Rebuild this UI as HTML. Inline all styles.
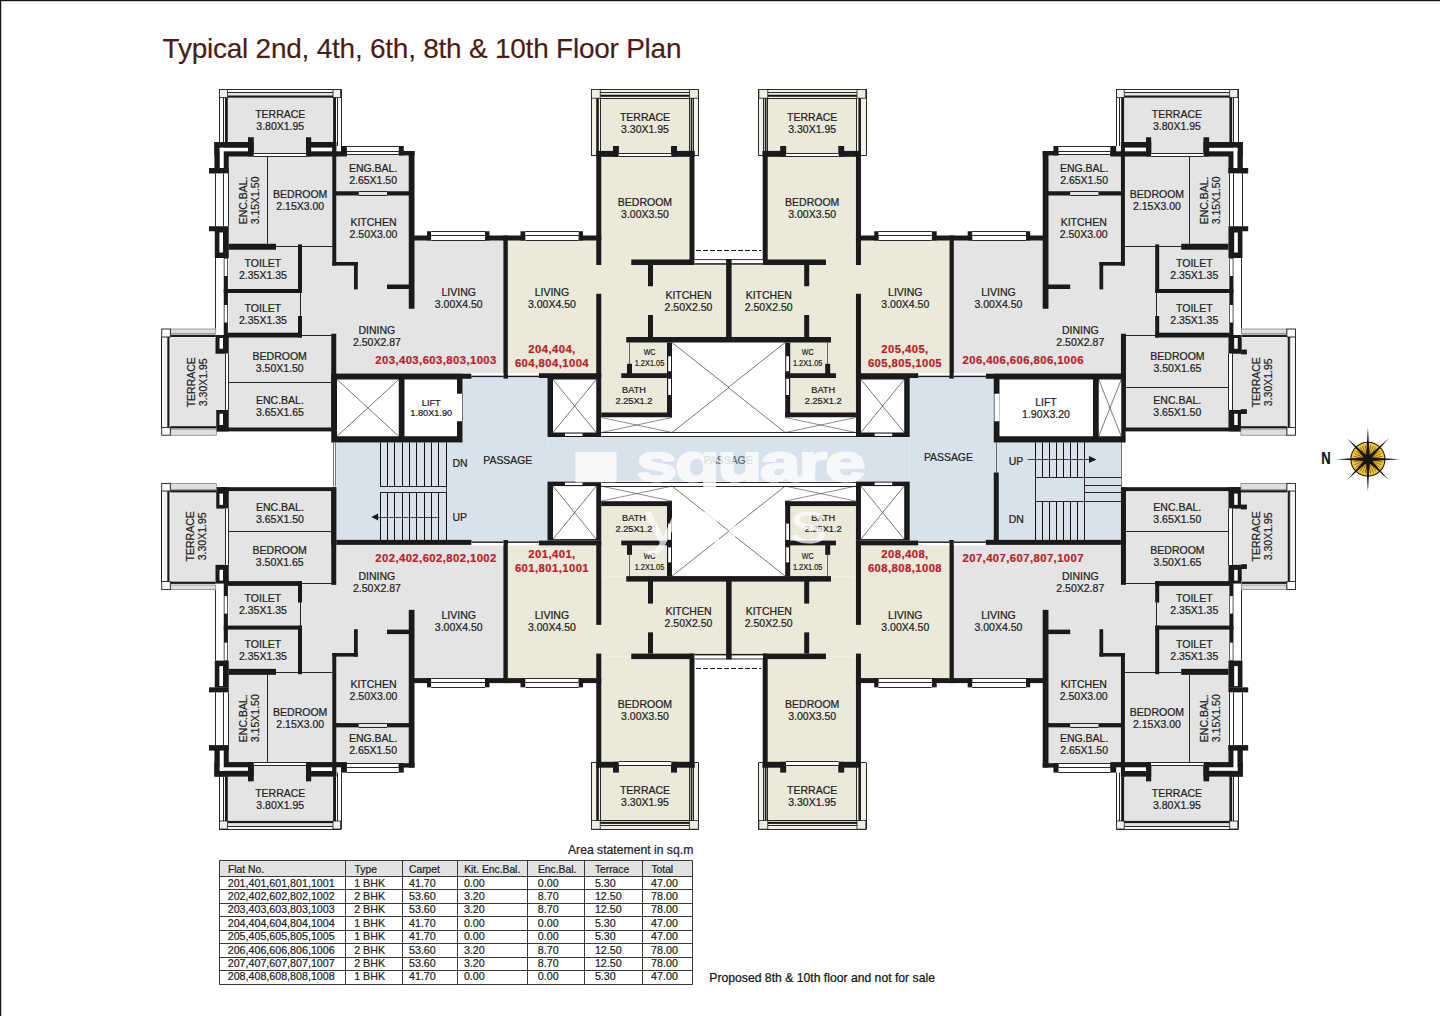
<!DOCTYPE html>
<html lang="en"><head><meta charset="utf-8"><title>Typical Floor Plan</title>
<style>
html,body{margin:0;padding:0;background:#fff;}
body{width:1440px;height:1016px;overflow:hidden;}
svg{display:block;font-family:"Liberation Sans",Arial,Helvetica,sans-serif;}
</style></head><body>
<svg width="1440" height="1016" viewBox="0 0 1440 1016">
<rect x="0" y="0" width="1440" height="1016" fill="#fff"/>
<rect x="336.25" y="442.5" width="211.25" height="97.35" fill="#d7e2ec"/>
<rect x="462.5" y="376.5" width="85" height="165.6" fill="#d7e2ec"/>
<rect x="547.5" y="437" width="362.2" height="44.6" fill="#d7e2ec"/>
<rect x="909.7" y="376.5" width="84.3" height="165.6" fill="#d7e2ec"/>
<rect x="994" y="442.5" width="127.3" height="97.35" fill="#d7e2ec"/>
<rect x="227.75" y="97.5" width="105.55" height="58.5" fill="#e4e4e4"/>
<rect x="228.5" y="155" width="181.5" height="95" fill="#e4e4e4"/>
<rect x="228.5" y="245" width="275.5" height="131" fill="#e4e4e4"/>
<rect x="410" y="238" width="94" height="138" fill="#e4e4e4"/>
<rect x="228.5" y="335" width="103.5" height="93" fill="#e4e4e4"/>
<rect x="170.3" y="337.3" width="54.9" height="90.3" fill="#e4e4e4"/>
<rect x="219" y="89.2" width="122" height="8.4" fill="#fafafa"/>
<rect x="219" y="89.2" width="8.5" height="52.8" fill="#fafafa"/>
<rect x="333" y="89.2" width="8" height="56.8" fill="#fafafa"/>
<rect x="227.5" y="92.6" width="105.5" height="3" fill="#e2e2e2"/>
<line x1="219" y1="89.5" x2="341" y2="89.5" stroke="#1c1c1c" stroke-width="0.95"/>
<line x1="227.5" y1="92.5" x2="333" y2="92.5" stroke="#1c1c1c" stroke-width="0.95"/>
<rect x="227.5" y="95.5" width="105.5" height="2.2" fill="#1a1a1a"/>
<line x1="219.5" y1="89.2" x2="219.5" y2="142" stroke="#1c1c1c" stroke-width="0.95"/>
<line x1="223.5" y1="97.5" x2="223.5" y2="142" stroke="#1c1c1c" stroke-width="0.95"/>
<line x1="341.5" y1="89.2" x2="341.5" y2="146" stroke="#1c1c1c" stroke-width="0.95"/>
<line x1="337.5" y1="97.5" x2="337.5" y2="146" stroke="#1c1c1c" stroke-width="0.95"/>
<rect x="219.4" y="89.6" width="8.1" height="8" fill="#f0f0f0" stroke="#1c1c1c" stroke-width="0.8"/>
<rect x="333" y="89.6" width="7.6" height="8" fill="#f0f0f0" stroke="#1c1c1c" stroke-width="0.8"/>
<rect x="225" y="97.5" width="2.8" height="44.5" fill="#1a1a1a"/>
<rect x="333.1" y="97.5" width="2.9" height="44.5" fill="#1a1a1a"/>
<rect x="214.4" y="142" width="39.35" height="14.5" fill="#1a1a1a"/>
<rect x="214.4" y="142" width="14.35" height="31.5" fill="#1a1a1a"/>
<rect x="209" y="168" width="19.75" height="5.5" fill="#1a1a1a"/>
<rect x="248" y="137.25" width="5.75" height="19.25" fill="#1a1a1a"/>
<rect x="219.75" y="147.8" width="28.25" height="3.5" fill="#fff"/>
<rect x="219.75" y="147.8" width="4" height="20.2" fill="#fff"/>
<rect x="306" y="137.25" width="5.2" height="19.25" fill="#1a1a1a"/>
<rect x="306" y="142" width="30.25" height="14.5" fill="#1a1a1a"/>
<rect x="311.2" y="147.6" width="21.3" height="3.7" fill="#fff"/>
<rect x="332.3" y="142" width="3.95" height="123.6" fill="#1a1a1a"/>
<rect x="253.75" y="153" width="52.25" height="3.5" fill="#fff"/>
<line x1="253.75" y1="153.5" x2="306" y2="153.5" stroke="#1c1c1c" stroke-width="0.95"/>
<line x1="253.75" y1="156.5" x2="306" y2="156.5" stroke="#1c1c1c" stroke-width="0.95"/>
<rect x="215" y="173.5" width="13.2" height="52.8" fill="#fff"/>
<line x1="215.5" y1="173.5" x2="215.5" y2="226.3" stroke="#1c1c1c" stroke-width="0.95"/>
<line x1="223.5" y1="173.5" x2="223.5" y2="226.3" stroke="#1c1c1c" stroke-width="0.95"/>
<line x1="228.5" y1="173.5" x2="228.5" y2="226.3" stroke="#1c1c1c" stroke-width="0.95"/>
<rect x="209" y="226.25" width="19.75" height="5" fill="#1a1a1a"/>
<rect x="214.75" y="231" width="14" height="27" fill="#1a1a1a"/>
<rect x="219.4" y="232.5" width="3.6" height="20" fill="#fff"/>
<rect x="228.75" y="243.75" width="47.25" height="6" fill="#1a1a1a"/>
<line x1="276" y1="246.5" x2="332.5" y2="246.5" stroke="#1c1c1c" stroke-width="0.95"/>
<line x1="267.5" y1="156.5" x2="267.5" y2="243.75" stroke="#1c1c1c" stroke-width="0.95"/>
<line x1="215.5" y1="258" x2="215.5" y2="335" stroke="#1c1c1c" stroke-width="0.95"/>
<rect x="223.75" y="258" width="4.15" height="77.5" fill="#1a1a1a"/>
<rect x="224.5" y="258.6" width="2.7" height="17.4" fill="#fff"/>
<rect x="224.5" y="305" width="2.7" height="17.5" fill="#fff"/>
<rect x="298" y="244.4" width="4" height="48.6" fill="#1a1a1a"/>
<rect x="223.75" y="289" width="78.25" height="4" fill="#1a1a1a"/>
<line x1="300.5" y1="293" x2="300.5" y2="316" stroke="#1c1c1c" stroke-width="0.95"/>
<rect x="298" y="316" width="4" height="21.5" fill="#1a1a1a"/>
<rect x="227.5" y="332.7" width="74.5" height="4.8" fill="#1a1a1a"/>
<line x1="302" y1="335.5" x2="331.5" y2="335.5" stroke="#1c1c1c" stroke-width="0.95"/>
<rect x="332.25" y="262" width="25.5" height="3.6" fill="#1a1a1a"/>
<rect x="354" y="262" width="3.75" height="27.4" fill="#1a1a1a"/>
<rect x="336" y="191.25" width="22.75" height="4.25" fill="#1a1a1a"/>
<rect x="387" y="191.25" width="23" height="4.25" fill="#1a1a1a"/>
<line x1="358.75" y1="191.5" x2="387" y2="191.5" stroke="#1c1c1c" stroke-width="0.95"/>
<line x1="358.75" y1="195.5" x2="387" y2="195.5" stroke="#1c1c1c" stroke-width="0.95"/>
<rect x="408.75" y="151" width="5.75" height="157.75" fill="#1a1a1a"/>
<rect x="387" y="284.5" width="23" height="4.5" fill="#1a1a1a"/>
<rect x="341" y="146" width="62.75" height="9" fill="#fff"/>
<line x1="346.9" y1="146.5" x2="398.75" y2="146.5" stroke="#1c1c1c" stroke-width="0.95"/>
<line x1="346.9" y1="151.5" x2="398.75" y2="151.5" stroke="#1c1c1c" stroke-width="0.95"/>
<line x1="346.9" y1="154.5" x2="398.75" y2="154.5" stroke="#1c1c1c" stroke-width="0.95"/>
<rect x="341" y="146" width="5.9" height="9.4" fill="#1a1a1a"/>
<rect x="336" y="151.3" width="10.9" height="5.2" fill="#1a1a1a"/>
<rect x="398.75" y="146" width="5" height="9.4" fill="#1a1a1a"/>
<rect x="398.75" y="151" width="15.75" height="4.4" fill="#1a1a1a"/>
<rect x="410" y="235.5" width="21.25" height="5" fill="#1a1a1a"/>
<rect x="427" y="231.25" width="4.25" height="9.25" fill="#1a1a1a"/>
<rect x="431.25" y="231.25" width="53.75" height="9.25" fill="#fff"/>
<line x1="431.25" y1="231.5" x2="485" y2="231.5" stroke="#1c1c1c" stroke-width="0.95"/>
<line x1="431.25" y1="235.5" x2="485" y2="235.5" stroke="#1c1c1c" stroke-width="0.95"/>
<line x1="431.25" y1="240.5" x2="485" y2="240.5" stroke="#1c1c1c" stroke-width="0.95"/>
<rect x="485" y="231.25" width="4.5" height="9.25" fill="#1a1a1a"/>
<rect x="485" y="235.5" width="23" height="5" fill="#1a1a1a"/>
<rect x="503.4" y="235.5" width="4.6" height="143.1" fill="#1a1a1a"/>
<rect x="331.25" y="333.75" width="5" height="97.65" fill="#1a1a1a"/>
<rect x="336.25" y="373.75" width="135.25" height="5" fill="#1a1a1a"/>
<rect x="471.5" y="373.2" width="31.9" height="2.6" fill="#fff"/>
<rect x="471.5" y="375.7" width="31.9" height="1.4" fill="#1a1a1a"/>
<line x1="228.75" y1="382.5" x2="331.25" y2="382.5" stroke="#1c1c1c" stroke-width="0.95"/>
<rect x="216.25" y="427.5" width="115" height="3.9" fill="#1a1a1a"/>
<rect x="215.5" y="335" width="13.25" height="18.75" fill="#1a1a1a"/>
<rect x="219.5" y="338" width="3.5" height="10.75" fill="#fff"/>
<rect x="216.25" y="410" width="12.5" height="21.4" fill="#1a1a1a"/>
<rect x="219.5" y="413.75" width="3.5" height="11.25" fill="#fff"/>
<rect x="225.2" y="353.75" width="3.3" height="56.25" fill="#fff"/>
<line x1="225.5" y1="353.75" x2="225.5" y2="410" stroke="#1c1c1c" stroke-width="0.95"/>
<line x1="228.5" y1="353.75" x2="228.5" y2="410" stroke="#1c1c1c" stroke-width="0.95"/>
<rect x="161.3" y="328.6" width="54.7" height="8.7" fill="#fff"/>
<rect x="161.3" y="427.6" width="54.95" height="8" fill="#fff"/>
<rect x="161.3" y="328.6" width="9" height="107" fill="#f6f6f6"/>
<rect x="170.3" y="329" width="45.5" height="4.6" fill="#dedede" stroke="#666" stroke-width="0.6"/>
<rect x="170.3" y="334.7" width="45.5" height="2.3" fill="#1a1a1a"/>
<rect x="170.3" y="426.2" width="45.95" height="2.2" fill="#1a1a1a"/>
<rect x="170.3" y="429.1" width="45.95" height="6.1" fill="#dedede" stroke="#666" stroke-width="0.6"/>
<line x1="161.5" y1="337" x2="161.5" y2="427.6" stroke="#1c1c1c" stroke-width="0.95"/>
<line x1="167.5" y1="337" x2="167.5" y2="427.6" stroke="#999" stroke-width="0.5"/>
<rect x="167.4" y="337" width="2.1" height="90.6" fill="#1a1a1a"/>
<rect x="161.7" y="329" width="8.6" height="8" fill="#fff" stroke="#1c1c1c" stroke-width="0.9"/>
<rect x="161.7" y="427.6" width="8.6" height="7.6" fill="#fff" stroke="#1c1c1c" stroke-width="0.9"/>
<text x="280.25" y="117.5" font-size="10.5" text-anchor="middle" fill="#222" stroke="#222" stroke-width="0.22">TERRACE</text>
<text x="280.25" y="129.5" font-size="10.5" text-anchor="middle" fill="#222" stroke="#222" stroke-width="0.22">3.80X1.95</text>
<text x="373.1" y="172" font-size="10.5" text-anchor="middle" fill="#222" stroke="#222" stroke-width="0.22">ENG.BAL.</text>
<text x="373.1" y="184" font-size="10.5" text-anchor="middle" fill="#222" stroke="#222" stroke-width="0.22">2.65X1.50</text>
<text x="300.25" y="198" font-size="10.5" text-anchor="middle" fill="#222" stroke="#222" stroke-width="0.22">BEDROOM</text>
<text x="300.25" y="210" font-size="10.5" text-anchor="middle" fill="#222" stroke="#222" stroke-width="0.22">2.15X3.00</text>
<text x="247" y="200.4" font-size="10.5" text-anchor="middle" fill="#222" stroke="#222" stroke-width="0.22" transform="rotate(-90 247 200.4)">ENC.BAL.</text>
<text x="259" y="200.4" font-size="10.5" text-anchor="middle" fill="#222" stroke="#222" stroke-width="0.22" transform="rotate(-90 259 200.4)">3.15X1.50</text>
<text x="373.5" y="226.25" font-size="10.5" text-anchor="middle" fill="#222" stroke="#222" stroke-width="0.22">KITCHEN</text>
<text x="373.5" y="238.25" font-size="10.5" text-anchor="middle" fill="#222" stroke="#222" stroke-width="0.22">2.50X3.00</text>
<text x="262.9" y="266.5" font-size="10.5" text-anchor="middle" fill="#222" stroke="#222" stroke-width="0.22">TOILET</text>
<text x="262.9" y="278.5" font-size="10.5" text-anchor="middle" fill="#222" stroke="#222" stroke-width="0.22">2.35X1.35</text>
<text x="262.9" y="312" font-size="10.5" text-anchor="middle" fill="#222" stroke="#222" stroke-width="0.22">TOILET</text>
<text x="262.9" y="324" font-size="10.5" text-anchor="middle" fill="#222" stroke="#222" stroke-width="0.22">2.35X1.35</text>
<text x="458.75" y="295.5" font-size="10.5" text-anchor="middle" fill="#222" stroke="#222" stroke-width="0.22">LIVING</text>
<text x="458.75" y="307.5" font-size="10.5" text-anchor="middle" fill="#222" stroke="#222" stroke-width="0.22">3.00X4.50</text>
<text x="376.9" y="333.75" font-size="10.5" text-anchor="middle" fill="#222" stroke="#222" stroke-width="0.22">DINING</text>
<text x="376.9" y="345.75" font-size="10.5" text-anchor="middle" fill="#222" stroke="#222" stroke-width="0.22">2.50X2.87</text>
<text x="279.75" y="360" font-size="10.5" text-anchor="middle" fill="#222" stroke="#222" stroke-width="0.22">BEDROOM</text>
<text x="279.75" y="372" font-size="10.5" text-anchor="middle" fill="#222" stroke="#222" stroke-width="0.22">3.50X1.50</text>
<text x="279.9" y="403.5" font-size="10.5" text-anchor="middle" fill="#222" stroke="#222" stroke-width="0.22">ENC.BAL.</text>
<text x="279.9" y="415.5" font-size="10.5" text-anchor="middle" fill="#222" stroke="#222" stroke-width="0.22">3.65X1.65</text>
<text x="194.5" y="382.25" font-size="10.5" text-anchor="middle" fill="#222" stroke="#222" stroke-width="0.22" transform="rotate(-90 194.5 382.25)">TERRACE</text>
<text x="206.5" y="382.25" font-size="10.5" text-anchor="middle" fill="#222" stroke="#222" stroke-width="0.22" transform="rotate(-90 206.5 382.25)">3.30X1.95</text>
<rect x="600.5" y="98" width="89" height="58" fill="#ebe9d9"/>
<rect x="601" y="155" width="89" height="107" fill="#ebe9d9"/>
<rect x="507.8" y="240" width="93.2" height="135" fill="#ebe9d9"/>
<rect x="596" y="262" width="131" height="80" fill="#ebe9d9"/>
<rect x="601.25" y="342" width="66.25" height="71" fill="#ebe9d9"/>
<rect x="591" y="89" width="107.7" height="9.2" fill="#f3f2e8"/>
<rect x="591" y="89" width="9.3" height="66.8" fill="#f3f2e8"/>
<rect x="689.3" y="89" width="9.4" height="66.8" fill="#f3f2e8"/>
<line x1="591" y1="89.5" x2="698.7" y2="89.5" stroke="#1c1c1c" stroke-width="0.95"/>
<line x1="600.2" y1="92.5" x2="689.4" y2="92.5" stroke="#1c1c1c" stroke-width="0.95"/>
<rect x="600.2" y="94.7" width="89.2" height="2.1" fill="#1a1a1a"/>
<line x1="600.2" y1="98.5" x2="689.4" y2="98.5" stroke="#1c1c1c" stroke-width="0.95"/>
<line x1="591.5" y1="89" x2="591.5" y2="155.8" stroke="#1c1c1c" stroke-width="0.95"/>
<line x1="698.5" y1="89" x2="698.5" y2="155.8" stroke="#1c1c1c" stroke-width="0.95"/>
<line x1="591" y1="155.5" x2="596.25" y2="155.5" stroke="#1c1c1c" stroke-width="0.95"/>
<line x1="694.5" y1="155.5" x2="698.7" y2="155.5" stroke="#1c1c1c" stroke-width="0.95"/>
<rect x="591.4" y="89.4" width="8.8" height="8.8" fill="#efeee2" stroke="#1c1c1c" stroke-width="0.8"/>
<rect x="689.4" y="89.4" width="8.9" height="8.8" fill="#efeee2" stroke="#1c1c1c" stroke-width="0.8"/>
<rect x="596.25" y="98" width="2.55" height="53.5" fill="#1a1a1a"/>
<line x1="600.5" y1="98" x2="600.5" y2="151.5" stroke="#1c1c1c" stroke-width="0.95"/>
<line x1="689.5" y1="98" x2="689.5" y2="151.5" stroke="#1c1c1c" stroke-width="0.95"/>
<rect x="690.7" y="98" width="1.7" height="53.5" fill="#1a1a1a"/>
<line x1="693.5" y1="98" x2="693.5" y2="151.5" stroke="#1c1c1c" stroke-width="0.95"/>
<rect x="596.25" y="150.9" width="22.15" height="5.9" fill="#1a1a1a"/>
<rect x="613" y="146" width="5.9" height="10.8" fill="#1a1a1a"/>
<rect x="671.6" y="150.9" width="23" height="5.9" fill="#1a1a1a"/>
<rect x="671" y="146" width="6" height="10.8" fill="#1a1a1a"/>
<rect x="618.75" y="153.4" width="52.5" height="3.4" fill="#fff"/>
<line x1="618.75" y1="153.5" x2="671.25" y2="153.5" stroke="#1c1c1c" stroke-width="0.95"/>
<line x1="618.75" y1="156.5" x2="671.25" y2="156.5" stroke="#1c1c1c" stroke-width="0.95"/>
<rect x="596.25" y="151.25" width="5" height="113.75" fill="#1a1a1a"/>
<rect x="689.5" y="151.25" width="5" height="113.75" fill="#1a1a1a"/>
<rect x="631.25" y="259.5" width="63.25" height="5.5" fill="#1a1a1a"/>
<rect x="648" y="265" width="5" height="21.25" fill="#1a1a1a"/>
<rect x="648" y="315" width="5" height="27" fill="#1a1a1a"/>
<rect x="596.25" y="293.75" width="5" height="84.25" fill="#1a1a1a"/>
<rect x="508" y="235.5" width="17.5" height="5" fill="#1a1a1a"/>
<rect x="520.5" y="231.25" width="5" height="9.25" fill="#1a1a1a"/>
<rect x="525.5" y="231.25" width="53.25" height="9.25" fill="#fff"/>
<line x1="525.5" y1="231.5" x2="578.75" y2="231.5" stroke="#1c1c1c" stroke-width="0.95"/>
<line x1="525.5" y1="235.5" x2="578.75" y2="235.5" stroke="#1c1c1c" stroke-width="0.95"/>
<line x1="525.5" y1="240.5" x2="578.75" y2="240.5" stroke="#1c1c1c" stroke-width="0.95"/>
<rect x="578.75" y="231.25" width="4.25" height="9.25" fill="#1a1a1a"/>
<rect x="578.75" y="235.5" width="22.5" height="5" fill="#1a1a1a"/>
<line x1="629.5" y1="342.5" x2="629.5" y2="363.75" stroke="#555" stroke-width="0.9"/>
<rect x="627" y="363.75" width="5" height="11.25" fill="#1a1a1a"/>
<rect x="667" y="342.5" width="5" height="75" fill="#1a1a1a"/>
<rect x="668.2" y="356.25" width="2.8" height="15" fill="#fff"/>
<rect x="668.2" y="378.75" width="2.8" height="16.25" fill="#fff"/>
<rect x="621.25" y="373.25" width="50.75" height="4.75" fill="#1a1a1a"/>
<rect x="601.25" y="412.5" width="70.75" height="5" fill="#1a1a1a"/>
<rect x="538.75" y="373.25" width="62.5" height="4.75" fill="#1a1a1a"/>
<rect x="508" y="373.2" width="30.75" height="2.6" fill="#fff"/>
<rect x="508" y="375.7" width="30.75" height="1.4" fill="#1a1a1a"/>
<rect x="547.5" y="378" width="53.75" height="59" fill="#1a1a1a"/>
<rect x="553" y="379.5" width="43.25" height="53" fill="#fff"/>
<rect x="565" y="433.6" width="17.5" height="2.4" fill="#fff"/>
<line x1="553" y1="379.5" x2="596.25" y2="432.5" stroke="#1c1c1c" stroke-width="0.6"/>
<line x1="553" y1="432.5" x2="596.25" y2="379.5" stroke="#1c1c1c" stroke-width="0.6"/>
<rect x="601.25" y="417.5" width="70.75" height="19.5" fill="#fff"/>
<line x1="601.25" y1="417.5" x2="672" y2="432.5" stroke="#1c1c1c" stroke-width="0.5"/>
<line x1="601.25" y1="432.5" x2="672" y2="417.5" stroke="#1c1c1c" stroke-width="0.5"/>
<line x1="601.25" y1="432.5" x2="729" y2="432.5" stroke="#1c1c1c" stroke-width="0.95"/>
<line x1="601.25" y1="436.5" x2="729" y2="436.5" stroke="#1c1c1c" stroke-width="0.95"/>
<line x1="672" y1="342.5" x2="729" y2="387.5" stroke="#1c1c1c" stroke-width="0.6"/>
<line x1="672" y1="432.5" x2="729" y2="387.5" stroke="#1c1c1c" stroke-width="0.6"/>
<text x="645" y="120.5" font-size="10.5" text-anchor="middle" fill="#222" stroke="#222" stroke-width="0.22">TERRACE</text>
<text x="645" y="132.5" font-size="10.5" text-anchor="middle" fill="#222" stroke="#222" stroke-width="0.22">3.30X1.95</text>
<text x="645" y="205.75" font-size="10.5" text-anchor="middle" fill="#222" stroke="#222" stroke-width="0.22">BEDROOM</text>
<text x="645" y="217.75" font-size="10.5" text-anchor="middle" fill="#222" stroke="#222" stroke-width="0.22">3.00X3.50</text>
<text x="551.9" y="295.5" font-size="10.5" text-anchor="middle" fill="#222" stroke="#222" stroke-width="0.22">LIVING</text>
<text x="551.9" y="307.5" font-size="10.5" text-anchor="middle" fill="#222" stroke="#222" stroke-width="0.22">3.00X4.50</text>
<text x="688.5" y="298.75" font-size="10.5" text-anchor="middle" fill="#222" stroke="#222" stroke-width="0.22">KITCHEN</text>
<text x="688.5" y="310.75" font-size="10.5" text-anchor="middle" fill="#222" stroke="#222" stroke-width="0.22">2.50X2.50</text>
<text x="649.5" y="355.3" font-size="9.3" text-anchor="middle" fill="#222" stroke="#222" stroke-width="0.22" textLength="11.7" lengthAdjust="spacingAndGlyphs">WC</text>
<text x="649.5" y="366" font-size="9.3" text-anchor="middle" fill="#222" stroke="#222" stroke-width="0.22" textLength="29.6" lengthAdjust="spacingAndGlyphs">1.2X1.05</text>
<text x="634" y="393" font-size="9.2" text-anchor="middle" fill="#222" stroke="#222" stroke-width="0.22">BATH</text>
<text x="634" y="403.75" font-size="9.2" text-anchor="middle" fill="#222" stroke="#222" stroke-width="0.22">2.25X1.2</text>
<rect x="227.75" y="762.6" width="105.55" height="58.5" fill="#e4e4e4"/>
<rect x="228.5" y="668.6" width="181.5" height="95" fill="#e4e4e4"/>
<rect x="228.5" y="542.6" width="275.5" height="131" fill="#e4e4e4"/>
<rect x="410" y="542.6" width="94" height="138" fill="#e4e4e4"/>
<rect x="228.5" y="490.6" width="103.5" height="93" fill="#e4e4e4"/>
<rect x="170.3" y="491" width="54.9" height="90.3" fill="#e4e4e4"/>
<rect x="219" y="821" width="122" height="8.4" fill="#fafafa"/>
<rect x="219" y="776.6" width="8.5" height="52.8" fill="#fafafa"/>
<rect x="333" y="772.6" width="8" height="56.8" fill="#fafafa"/>
<rect x="227.5" y="823" width="105.5" height="3" fill="#e2e2e2"/>
<line x1="219" y1="829.5" x2="341" y2="829.5" stroke="#1c1c1c" stroke-width="0.95"/>
<line x1="227.5" y1="826.5" x2="333" y2="826.5" stroke="#1c1c1c" stroke-width="0.95"/>
<rect x="227.5" y="820.9" width="105.5" height="2.2" fill="#1a1a1a"/>
<line x1="219.5" y1="829.4" x2="219.5" y2="776.6" stroke="#1c1c1c" stroke-width="0.95"/>
<line x1="223.5" y1="821.1" x2="223.5" y2="776.6" stroke="#1c1c1c" stroke-width="0.95"/>
<line x1="341.5" y1="829.4" x2="341.5" y2="772.6" stroke="#1c1c1c" stroke-width="0.95"/>
<line x1="337.5" y1="821.1" x2="337.5" y2="772.6" stroke="#1c1c1c" stroke-width="0.95"/>
<rect x="219.4" y="821" width="8.1" height="8" fill="#f0f0f0" stroke="#1c1c1c" stroke-width="0.8"/>
<rect x="333" y="821" width="7.6" height="8" fill="#f0f0f0" stroke="#1c1c1c" stroke-width="0.8"/>
<rect x="225" y="776.6" width="2.8" height="44.5" fill="#1a1a1a"/>
<rect x="333.1" y="776.6" width="2.9" height="44.5" fill="#1a1a1a"/>
<rect x="214.4" y="762.1" width="39.35" height="14.5" fill="#1a1a1a"/>
<rect x="214.4" y="745.1" width="14.35" height="31.5" fill="#1a1a1a"/>
<rect x="209" y="745.1" width="19.75" height="5.5" fill="#1a1a1a"/>
<rect x="248" y="762.1" width="5.75" height="19.25" fill="#1a1a1a"/>
<rect x="219.75" y="767.3" width="28.25" height="3.5" fill="#fff"/>
<rect x="219.75" y="750.6" width="4" height="20.2" fill="#fff"/>
<rect x="306" y="762.1" width="5.2" height="19.25" fill="#1a1a1a"/>
<rect x="306" y="762.1" width="30.25" height="14.5" fill="#1a1a1a"/>
<rect x="311.2" y="767.3" width="21.3" height="3.7" fill="#fff"/>
<rect x="332.3" y="653" width="3.95" height="123.6" fill="#1a1a1a"/>
<rect x="253.75" y="762.1" width="52.25" height="3.5" fill="#fff"/>
<line x1="253.75" y1="765.5" x2="306" y2="765.5" stroke="#1c1c1c" stroke-width="0.95"/>
<line x1="253.75" y1="762.5" x2="306" y2="762.5" stroke="#1c1c1c" stroke-width="0.95"/>
<rect x="215" y="692.3" width="13.2" height="52.8" fill="#fff"/>
<line x1="215.5" y1="745.1" x2="215.5" y2="692.3" stroke="#1c1c1c" stroke-width="0.95"/>
<line x1="223.5" y1="745.1" x2="223.5" y2="692.3" stroke="#1c1c1c" stroke-width="0.95"/>
<line x1="228.5" y1="745.1" x2="228.5" y2="692.3" stroke="#1c1c1c" stroke-width="0.95"/>
<rect x="209" y="687.35" width="19.75" height="5" fill="#1a1a1a"/>
<rect x="214.75" y="660.6" width="14" height="27" fill="#1a1a1a"/>
<rect x="219.4" y="666.1" width="3.6" height="20" fill="#fff"/>
<rect x="228.75" y="668.85" width="47.25" height="6" fill="#1a1a1a"/>
<line x1="276" y1="672.5" x2="332.5" y2="672.5" stroke="#1c1c1c" stroke-width="0.95"/>
<line x1="267.5" y1="762.1" x2="267.5" y2="674.85" stroke="#1c1c1c" stroke-width="0.95"/>
<line x1="215.5" y1="660.6" x2="215.5" y2="583.6" stroke="#1c1c1c" stroke-width="0.95"/>
<rect x="223.75" y="583.1" width="4.15" height="77.5" fill="#1a1a1a"/>
<rect x="224.5" y="642.6" width="2.7" height="17.4" fill="#fff"/>
<rect x="224.5" y="596.1" width="2.7" height="17.5" fill="#fff"/>
<rect x="298" y="625.6" width="4" height="48.6" fill="#1a1a1a"/>
<rect x="223.75" y="625.6" width="78.25" height="4" fill="#1a1a1a"/>
<line x1="300.5" y1="625.6" x2="300.5" y2="602.6" stroke="#1c1c1c" stroke-width="0.95"/>
<rect x="298" y="581.1" width="4" height="21.5" fill="#1a1a1a"/>
<rect x="227.5" y="581.1" width="74.5" height="4.8" fill="#1a1a1a"/>
<line x1="302" y1="583.5" x2="331.5" y2="583.5" stroke="#1c1c1c" stroke-width="0.95"/>
<rect x="332.25" y="653" width="25.5" height="3.6" fill="#1a1a1a"/>
<rect x="354" y="629.2" width="3.75" height="27.4" fill="#1a1a1a"/>
<rect x="336" y="723.1" width="22.75" height="4.25" fill="#1a1a1a"/>
<rect x="387" y="723.1" width="23" height="4.25" fill="#1a1a1a"/>
<line x1="358.75" y1="727.5" x2="387" y2="727.5" stroke="#1c1c1c" stroke-width="0.95"/>
<line x1="358.75" y1="723.5" x2="387" y2="723.5" stroke="#1c1c1c" stroke-width="0.95"/>
<rect x="408.75" y="609.85" width="5.75" height="157.75" fill="#1a1a1a"/>
<rect x="387" y="629.6" width="23" height="4.5" fill="#1a1a1a"/>
<rect x="341" y="763.6" width="62.75" height="9" fill="#fff"/>
<line x1="346.9" y1="772.5" x2="398.75" y2="772.5" stroke="#1c1c1c" stroke-width="0.95"/>
<line x1="346.9" y1="767.5" x2="398.75" y2="767.5" stroke="#1c1c1c" stroke-width="0.95"/>
<line x1="346.9" y1="763.5" x2="398.75" y2="763.5" stroke="#1c1c1c" stroke-width="0.95"/>
<rect x="341" y="763.2" width="5.9" height="9.4" fill="#1a1a1a"/>
<rect x="336" y="762.1" width="10.9" height="5.2" fill="#1a1a1a"/>
<rect x="398.75" y="763.2" width="5" height="9.4" fill="#1a1a1a"/>
<rect x="398.75" y="763.2" width="15.75" height="4.4" fill="#1a1a1a"/>
<rect x="410" y="678.1" width="21.25" height="5" fill="#1a1a1a"/>
<rect x="427" y="678.1" width="4.25" height="9.25" fill="#1a1a1a"/>
<rect x="431.25" y="678.1" width="53.75" height="9.25" fill="#fff"/>
<line x1="431.25" y1="687.5" x2="485" y2="687.5" stroke="#1c1c1c" stroke-width="0.95"/>
<line x1="431.25" y1="682.5" x2="485" y2="682.5" stroke="#1c1c1c" stroke-width="0.95"/>
<line x1="431.25" y1="678.5" x2="485" y2="678.5" stroke="#1c1c1c" stroke-width="0.95"/>
<rect x="485" y="678.1" width="4.5" height="9.25" fill="#1a1a1a"/>
<rect x="485" y="678.1" width="23" height="5" fill="#1a1a1a"/>
<rect x="503.4" y="540" width="4.6" height="143.1" fill="#1a1a1a"/>
<rect x="331.25" y="487.2" width="5" height="97.65" fill="#1a1a1a"/>
<rect x="336.25" y="539.85" width="135.25" height="5" fill="#1a1a1a"/>
<rect x="471.5" y="542.8" width="31.9" height="2.6" fill="#fff"/>
<rect x="471.5" y="541.5" width="31.9" height="1.4" fill="#1a1a1a"/>
<line x1="228.75" y1="531.5" x2="331.25" y2="531.5" stroke="#1c1c1c" stroke-width="0.95"/>
<rect x="216.25" y="487.2" width="115" height="3.9" fill="#1a1a1a"/>
<rect x="215.5" y="564.85" width="13.25" height="18.75" fill="#1a1a1a"/>
<rect x="219.5" y="569.85" width="3.5" height="10.75" fill="#fff"/>
<rect x="216.25" y="487.2" width="12.5" height="21.4" fill="#1a1a1a"/>
<rect x="219.5" y="493.6" width="3.5" height="11.25" fill="#fff"/>
<rect x="225.2" y="508.6" width="3.3" height="56.25" fill="#fff"/>
<line x1="225.5" y1="564.85" x2="225.5" y2="508.6" stroke="#1c1c1c" stroke-width="0.95"/>
<line x1="228.5" y1="564.85" x2="228.5" y2="508.6" stroke="#1c1c1c" stroke-width="0.95"/>
<rect x="161.3" y="581.3" width="54.7" height="8.7" fill="#fff"/>
<rect x="161.3" y="483" width="54.95" height="8" fill="#fff"/>
<rect x="161.3" y="483" width="9" height="107" fill="#f6f6f6"/>
<rect x="170.3" y="585" width="45.5" height="4.6" fill="#dedede" stroke="#666" stroke-width="0.6"/>
<rect x="170.3" y="581.6" width="45.5" height="2.3" fill="#1a1a1a"/>
<rect x="170.3" y="490.2" width="45.95" height="2.2" fill="#1a1a1a"/>
<rect x="170.3" y="483.4" width="45.95" height="6.1" fill="#dedede" stroke="#666" stroke-width="0.6"/>
<line x1="161.5" y1="581.6" x2="161.5" y2="491" stroke="#1c1c1c" stroke-width="0.95"/>
<line x1="167.5" y1="581.6" x2="167.5" y2="491" stroke="#999" stroke-width="0.5"/>
<rect x="167.4" y="491" width="2.1" height="90.6" fill="#1a1a1a"/>
<rect x="161.7" y="581.6" width="8.6" height="8" fill="#fff" stroke="#1c1c1c" stroke-width="0.9"/>
<rect x="161.7" y="483.4" width="8.6" height="7.6" fill="#fff" stroke="#1c1c1c" stroke-width="0.9"/>
<text x="280.25" y="796.62" font-size="10.5" text-anchor="middle" fill="#222" stroke="#222" stroke-width="0.22">TERRACE</text>
<text x="280.25" y="808.62" font-size="10.5" text-anchor="middle" fill="#222" stroke="#222" stroke-width="0.22">3.80X1.95</text>
<text x="373.1" y="742.12" font-size="10.5" text-anchor="middle" fill="#222" stroke="#222" stroke-width="0.22">ENG.BAL.</text>
<text x="373.1" y="754.12" font-size="10.5" text-anchor="middle" fill="#222" stroke="#222" stroke-width="0.22">2.65X1.50</text>
<text x="300.25" y="716.12" font-size="10.5" text-anchor="middle" fill="#222" stroke="#222" stroke-width="0.22">BEDROOM</text>
<text x="300.25" y="728.12" font-size="10.5" text-anchor="middle" fill="#222" stroke="#222" stroke-width="0.22">2.15X3.00</text>
<text x="247" y="718.2" font-size="10.5" text-anchor="middle" fill="#222" stroke="#222" stroke-width="0.22" transform="rotate(-90 247 718.2)">ENC.BAL.</text>
<text x="259" y="718.2" font-size="10.5" text-anchor="middle" fill="#222" stroke="#222" stroke-width="0.22" transform="rotate(-90 259 718.2)">3.15X1.50</text>
<text x="373.5" y="687.87" font-size="10.5" text-anchor="middle" fill="#222" stroke="#222" stroke-width="0.22">KITCHEN</text>
<text x="373.5" y="699.87" font-size="10.5" text-anchor="middle" fill="#222" stroke="#222" stroke-width="0.22">2.50X3.00</text>
<text x="262.9" y="647.62" font-size="10.5" text-anchor="middle" fill="#222" stroke="#222" stroke-width="0.22">TOILET</text>
<text x="262.9" y="659.62" font-size="10.5" text-anchor="middle" fill="#222" stroke="#222" stroke-width="0.22">2.35X1.35</text>
<text x="262.9" y="602.12" font-size="10.5" text-anchor="middle" fill="#222" stroke="#222" stroke-width="0.22">TOILET</text>
<text x="262.9" y="614.12" font-size="10.5" text-anchor="middle" fill="#222" stroke="#222" stroke-width="0.22">2.35X1.35</text>
<text x="458.75" y="618.62" font-size="10.5" text-anchor="middle" fill="#222" stroke="#222" stroke-width="0.22">LIVING</text>
<text x="458.75" y="630.62" font-size="10.5" text-anchor="middle" fill="#222" stroke="#222" stroke-width="0.22">3.00X4.50</text>
<text x="376.9" y="580.37" font-size="10.5" text-anchor="middle" fill="#222" stroke="#222" stroke-width="0.22">DINING</text>
<text x="376.9" y="592.37" font-size="10.5" text-anchor="middle" fill="#222" stroke="#222" stroke-width="0.22">2.50X2.87</text>
<text x="279.75" y="554.12" font-size="10.5" text-anchor="middle" fill="#222" stroke="#222" stroke-width="0.22">BEDROOM</text>
<text x="279.75" y="566.12" font-size="10.5" text-anchor="middle" fill="#222" stroke="#222" stroke-width="0.22">3.50X1.65</text>
<text x="279.9" y="510.62" font-size="10.5" text-anchor="middle" fill="#222" stroke="#222" stroke-width="0.22">ENC.BAL.</text>
<text x="279.9" y="522.62" font-size="10.5" text-anchor="middle" fill="#222" stroke="#222" stroke-width="0.22">3.65X1.50</text>
<text x="194.5" y="536.35" font-size="10.5" text-anchor="middle" fill="#222" stroke="#222" stroke-width="0.22" transform="rotate(-90 194.5 536.35)">TERRACE</text>
<text x="206.5" y="536.35" font-size="10.5" text-anchor="middle" fill="#222" stroke="#222" stroke-width="0.22" transform="rotate(-90 206.5 536.35)">3.30X1.95</text>
<rect x="600.5" y="762.6" width="89" height="58" fill="#ebe9d9"/>
<rect x="601" y="656.6" width="89" height="107" fill="#ebe9d9"/>
<rect x="507.8" y="543.6" width="93.2" height="135" fill="#ebe9d9"/>
<rect x="596" y="576.6" width="131" height="80" fill="#ebe9d9"/>
<rect x="601.25" y="505.6" width="66.25" height="71" fill="#ebe9d9"/>
<rect x="591" y="820.4" width="107.7" height="9.2" fill="#f3f2e8"/>
<rect x="591" y="762.8" width="9.3" height="66.8" fill="#f3f2e8"/>
<rect x="689.3" y="762.8" width="9.4" height="66.8" fill="#f3f2e8"/>
<line x1="591" y1="829.5" x2="698.7" y2="829.5" stroke="#1c1c1c" stroke-width="0.95"/>
<line x1="600.2" y1="825.5" x2="689.4" y2="825.5" stroke="#1c1c1c" stroke-width="0.95"/>
<rect x="600.2" y="821.8" width="89.2" height="2.1" fill="#1a1a1a"/>
<line x1="600.2" y1="820.5" x2="689.4" y2="820.5" stroke="#1c1c1c" stroke-width="0.95"/>
<line x1="591.5" y1="829.6" x2="591.5" y2="762.8" stroke="#1c1c1c" stroke-width="0.95"/>
<line x1="698.5" y1="829.6" x2="698.5" y2="762.8" stroke="#1c1c1c" stroke-width="0.95"/>
<line x1="591" y1="762.5" x2="596.25" y2="762.5" stroke="#1c1c1c" stroke-width="0.95"/>
<line x1="694.5" y1="762.5" x2="698.7" y2="762.5" stroke="#1c1c1c" stroke-width="0.95"/>
<rect x="591.4" y="820.4" width="8.8" height="8.8" fill="#efeee2" stroke="#1c1c1c" stroke-width="0.8"/>
<rect x="689.4" y="820.4" width="8.9" height="8.8" fill="#efeee2" stroke="#1c1c1c" stroke-width="0.8"/>
<rect x="596.25" y="767.1" width="2.55" height="53.5" fill="#1a1a1a"/>
<line x1="600.5" y1="820.6" x2="600.5" y2="767.1" stroke="#1c1c1c" stroke-width="0.95"/>
<line x1="689.5" y1="820.6" x2="689.5" y2="767.1" stroke="#1c1c1c" stroke-width="0.95"/>
<rect x="690.7" y="767.1" width="1.7" height="53.5" fill="#1a1a1a"/>
<line x1="693.5" y1="820.6" x2="693.5" y2="767.1" stroke="#1c1c1c" stroke-width="0.95"/>
<rect x="596.25" y="761.8" width="22.15" height="5.9" fill="#1a1a1a"/>
<rect x="613" y="761.8" width="5.9" height="10.8" fill="#1a1a1a"/>
<rect x="671.6" y="761.8" width="23" height="5.9" fill="#1a1a1a"/>
<rect x="671" y="761.8" width="6" height="10.8" fill="#1a1a1a"/>
<rect x="618.75" y="761.8" width="52.5" height="3.4" fill="#fff"/>
<line x1="618.75" y1="765.5" x2="671.25" y2="765.5" stroke="#1c1c1c" stroke-width="0.95"/>
<line x1="618.75" y1="761.5" x2="671.25" y2="761.5" stroke="#1c1c1c" stroke-width="0.95"/>
<rect x="596.25" y="653.6" width="5" height="113.75" fill="#1a1a1a"/>
<rect x="689.5" y="653.6" width="5" height="113.75" fill="#1a1a1a"/>
<rect x="631.25" y="653.6" width="63.25" height="5.5" fill="#1a1a1a"/>
<rect x="648" y="632.35" width="5" height="21.25" fill="#1a1a1a"/>
<rect x="648" y="576.6" width="5" height="27" fill="#1a1a1a"/>
<rect x="596.25" y="540.6" width="5" height="84.25" fill="#1a1a1a"/>
<rect x="508" y="678.1" width="17.5" height="5" fill="#1a1a1a"/>
<rect x="520.5" y="678.1" width="5" height="9.25" fill="#1a1a1a"/>
<rect x="525.5" y="678.1" width="53.25" height="9.25" fill="#fff"/>
<line x1="525.5" y1="687.5" x2="578.75" y2="687.5" stroke="#1c1c1c" stroke-width="0.95"/>
<line x1="525.5" y1="682.5" x2="578.75" y2="682.5" stroke="#1c1c1c" stroke-width="0.95"/>
<line x1="525.5" y1="678.5" x2="578.75" y2="678.5" stroke="#1c1c1c" stroke-width="0.95"/>
<rect x="578.75" y="678.1" width="4.25" height="9.25" fill="#1a1a1a"/>
<rect x="578.75" y="678.1" width="22.5" height="5" fill="#1a1a1a"/>
<line x1="629.5" y1="576.1" x2="629.5" y2="554.85" stroke="#555" stroke-width="0.9"/>
<rect x="627" y="543.6" width="5" height="11.25" fill="#1a1a1a"/>
<rect x="667" y="501.1" width="5" height="75" fill="#1a1a1a"/>
<rect x="668.2" y="547.35" width="2.8" height="15" fill="#fff"/>
<rect x="668.2" y="523.6" width="2.8" height="16.25" fill="#fff"/>
<rect x="621.25" y="540.6" width="50.75" height="4.75" fill="#1a1a1a"/>
<rect x="601.25" y="501.1" width="70.75" height="5" fill="#1a1a1a"/>
<rect x="538.75" y="540.6" width="62.5" height="4.75" fill="#1a1a1a"/>
<rect x="508" y="542.8" width="30.75" height="2.6" fill="#fff"/>
<rect x="508" y="541.5" width="30.75" height="1.4" fill="#1a1a1a"/>
<rect x="547.5" y="481.6" width="53.75" height="59" fill="#1a1a1a"/>
<rect x="553" y="486.1" width="43.25" height="53" fill="#fff"/>
<rect x="565" y="482.6" width="17.5" height="2.4" fill="#fff"/>
<line x1="553" y1="539.1" x2="596.25" y2="486.1" stroke="#1c1c1c" stroke-width="0.6"/>
<line x1="553" y1="486.1" x2="596.25" y2="539.1" stroke="#1c1c1c" stroke-width="0.6"/>
<rect x="601.25" y="481.6" width="70.75" height="19.5" fill="#fff"/>
<line x1="601.25" y1="501.1" x2="672" y2="486.1" stroke="#1c1c1c" stroke-width="0.5"/>
<line x1="601.25" y1="486.1" x2="672" y2="501.1" stroke="#1c1c1c" stroke-width="0.5"/>
<line x1="601.25" y1="486.5" x2="729" y2="486.5" stroke="#1c1c1c" stroke-width="0.95"/>
<line x1="601.25" y1="482.5" x2="729" y2="482.5" stroke="#1c1c1c" stroke-width="0.95"/>
<line x1="672" y1="576.1" x2="729" y2="531.1" stroke="#1c1c1c" stroke-width="0.6"/>
<line x1="672" y1="486.1" x2="729" y2="531.1" stroke="#1c1c1c" stroke-width="0.6"/>
<text x="645" y="793.62" font-size="10.5" text-anchor="middle" fill="#222" stroke="#222" stroke-width="0.22">TERRACE</text>
<text x="645" y="805.62" font-size="10.5" text-anchor="middle" fill="#222" stroke="#222" stroke-width="0.22">3.30X1.95</text>
<text x="645" y="708.37" font-size="10.5" text-anchor="middle" fill="#222" stroke="#222" stroke-width="0.22">BEDROOM</text>
<text x="645" y="720.37" font-size="10.5" text-anchor="middle" fill="#222" stroke="#222" stroke-width="0.22">3.00X3.50</text>
<text x="551.9" y="618.62" font-size="10.5" text-anchor="middle" fill="#222" stroke="#222" stroke-width="0.22">LIVING</text>
<text x="551.9" y="630.62" font-size="10.5" text-anchor="middle" fill="#222" stroke="#222" stroke-width="0.22">3.00X4.50</text>
<text x="688.5" y="615.37" font-size="10.5" text-anchor="middle" fill="#222" stroke="#222" stroke-width="0.22">KITCHEN</text>
<text x="688.5" y="627.37" font-size="10.5" text-anchor="middle" fill="#222" stroke="#222" stroke-width="0.22">2.50X2.50</text>
<text x="649.5" y="559.26" font-size="9.3" text-anchor="middle" fill="#222" stroke="#222" stroke-width="0.22" textLength="11.7" lengthAdjust="spacingAndGlyphs">WC</text>
<text x="649.5" y="569.96" font-size="9.3" text-anchor="middle" fill="#222" stroke="#222" stroke-width="0.22" textLength="29.6" lengthAdjust="spacingAndGlyphs">1.2X1.05</text>
<text x="634" y="521.44" font-size="9.2" text-anchor="middle" fill="#222" stroke="#222" stroke-width="0.22">BATH</text>
<text x="634" y="532.19" font-size="9.2" text-anchor="middle" fill="#222" stroke="#222" stroke-width="0.22">2.25X1.2</text>
<rect x="1123.9" y="97.5" width="105.55" height="58.5" fill="#e4e4e4"/>
<rect x="1047.2" y="155" width="181.5" height="95" fill="#e4e4e4"/>
<rect x="953.2" y="245" width="275.5" height="131" fill="#e4e4e4"/>
<rect x="953.2" y="238" width="94" height="138" fill="#e4e4e4"/>
<rect x="1125.2" y="335" width="103.5" height="93" fill="#e4e4e4"/>
<rect x="1232" y="337.3" width="54.9" height="90.3" fill="#e4e4e4"/>
<rect x="1116.2" y="89.2" width="122" height="8.4" fill="#fafafa"/>
<rect x="1229.7" y="89.2" width="8.5" height="52.8" fill="#fafafa"/>
<rect x="1116.2" y="89.2" width="8" height="56.8" fill="#fafafa"/>
<rect x="1124.2" y="92.6" width="105.5" height="3" fill="#e2e2e2"/>
<line x1="1238.2" y1="89.5" x2="1116.2" y2="89.5" stroke="#1c1c1c" stroke-width="0.95"/>
<line x1="1229.7" y1="92.5" x2="1124.2" y2="92.5" stroke="#1c1c1c" stroke-width="0.95"/>
<rect x="1124.2" y="95.5" width="105.5" height="2.2" fill="#1a1a1a"/>
<line x1="1238.5" y1="89.2" x2="1238.5" y2="142" stroke="#1c1c1c" stroke-width="0.95"/>
<line x1="1233.5" y1="97.5" x2="1233.5" y2="142" stroke="#1c1c1c" stroke-width="0.95"/>
<line x1="1116.5" y1="89.2" x2="1116.5" y2="146" stroke="#1c1c1c" stroke-width="0.95"/>
<line x1="1119.5" y1="97.5" x2="1119.5" y2="146" stroke="#1c1c1c" stroke-width="0.95"/>
<rect x="1229.7" y="89.6" width="8.1" height="8" fill="#f0f0f0" stroke="#1c1c1c" stroke-width="0.8"/>
<rect x="1116.6" y="89.6" width="7.6" height="8" fill="#f0f0f0" stroke="#1c1c1c" stroke-width="0.8"/>
<rect x="1229.4" y="97.5" width="2.8" height="44.5" fill="#1a1a1a"/>
<rect x="1121.2" y="97.5" width="2.9" height="44.5" fill="#1a1a1a"/>
<rect x="1203.45" y="142" width="39.35" height="14.5" fill="#1a1a1a"/>
<rect x="1228.45" y="142" width="14.35" height="31.5" fill="#1a1a1a"/>
<rect x="1228.45" y="168" width="19.75" height="5.5" fill="#1a1a1a"/>
<rect x="1203.45" y="137.25" width="5.75" height="19.25" fill="#1a1a1a"/>
<rect x="1209.2" y="147.8" width="28.25" height="3.5" fill="#fff"/>
<rect x="1233.45" y="147.8" width="4" height="20.2" fill="#fff"/>
<rect x="1146" y="137.25" width="5.2" height="19.25" fill="#1a1a1a"/>
<rect x="1120.95" y="142" width="30.25" height="14.5" fill="#1a1a1a"/>
<rect x="1124.7" y="147.6" width="21.3" height="3.7" fill="#fff"/>
<rect x="1120.95" y="142" width="3.95" height="123.6" fill="#1a1a1a"/>
<rect x="1151.2" y="153" width="52.25" height="3.5" fill="#fff"/>
<line x1="1203.45" y1="153.5" x2="1151.2" y2="153.5" stroke="#1c1c1c" stroke-width="0.95"/>
<line x1="1203.45" y1="156.5" x2="1151.2" y2="156.5" stroke="#1c1c1c" stroke-width="0.95"/>
<rect x="1229" y="173.5" width="13.2" height="52.8" fill="#fff"/>
<line x1="1242.5" y1="173.5" x2="1242.5" y2="226.3" stroke="#1c1c1c" stroke-width="0.95"/>
<line x1="1233.5" y1="173.5" x2="1233.5" y2="226.3" stroke="#1c1c1c" stroke-width="0.95"/>
<line x1="1229.5" y1="173.5" x2="1229.5" y2="226.3" stroke="#1c1c1c" stroke-width="0.95"/>
<rect x="1228.45" y="226.25" width="19.75" height="5" fill="#1a1a1a"/>
<rect x="1228.45" y="231" width="14" height="27" fill="#1a1a1a"/>
<rect x="1234.2" y="232.5" width="3.6" height="20" fill="#fff"/>
<rect x="1181.2" y="243.75" width="47.25" height="6" fill="#1a1a1a"/>
<line x1="1181.2" y1="246.5" x2="1124.7" y2="246.5" stroke="#1c1c1c" stroke-width="0.95"/>
<line x1="1189.5" y1="156.5" x2="1189.5" y2="243.75" stroke="#1c1c1c" stroke-width="0.95"/>
<line x1="1241.5" y1="258" x2="1241.5" y2="335" stroke="#1c1c1c" stroke-width="0.95"/>
<rect x="1229.3" y="258" width="4.15" height="77.5" fill="#1a1a1a"/>
<rect x="1230" y="258.6" width="2.7" height="17.4" fill="#fff"/>
<rect x="1230" y="305" width="2.7" height="17.5" fill="#fff"/>
<rect x="1155.2" y="244.4" width="4" height="48.6" fill="#1a1a1a"/>
<rect x="1155.2" y="289" width="78.25" height="4" fill="#1a1a1a"/>
<line x1="1156.5" y1="293" x2="1156.5" y2="316" stroke="#1c1c1c" stroke-width="0.95"/>
<rect x="1155.2" y="316" width="4" height="21.5" fill="#1a1a1a"/>
<rect x="1155.2" y="332.7" width="74.5" height="4.8" fill="#1a1a1a"/>
<line x1="1155.2" y1="335.5" x2="1125.7" y2="335.5" stroke="#1c1c1c" stroke-width="0.95"/>
<rect x="1099.45" y="262" width="25.5" height="3.6" fill="#1a1a1a"/>
<rect x="1099.45" y="262" width="3.75" height="27.4" fill="#1a1a1a"/>
<rect x="1098.45" y="191.25" width="22.75" height="4.25" fill="#1a1a1a"/>
<rect x="1047.2" y="191.25" width="23" height="4.25" fill="#1a1a1a"/>
<line x1="1098.45" y1="191.5" x2="1070.2" y2="191.5" stroke="#1c1c1c" stroke-width="0.95"/>
<line x1="1098.45" y1="195.5" x2="1070.2" y2="195.5" stroke="#1c1c1c" stroke-width="0.95"/>
<rect x="1042.7" y="151" width="5.75" height="157.75" fill="#1a1a1a"/>
<rect x="1047.2" y="284.5" width="23" height="4.5" fill="#1a1a1a"/>
<rect x="1053.45" y="146" width="62.75" height="9" fill="#fff"/>
<line x1="1110.3" y1="146.5" x2="1058.45" y2="146.5" stroke="#1c1c1c" stroke-width="0.95"/>
<line x1="1110.3" y1="151.5" x2="1058.45" y2="151.5" stroke="#1c1c1c" stroke-width="0.95"/>
<line x1="1110.3" y1="154.5" x2="1058.45" y2="154.5" stroke="#1c1c1c" stroke-width="0.95"/>
<rect x="1110.3" y="146" width="5.9" height="9.4" fill="#1a1a1a"/>
<rect x="1110.3" y="151.3" width="10.9" height="5.2" fill="#1a1a1a"/>
<rect x="1053.45" y="146" width="5" height="9.4" fill="#1a1a1a"/>
<rect x="1042.7" y="151" width="15.75" height="4.4" fill="#1a1a1a"/>
<rect x="1025.95" y="235.5" width="21.25" height="5" fill="#1a1a1a"/>
<rect x="1025.95" y="231.25" width="4.25" height="9.25" fill="#1a1a1a"/>
<rect x="972.2" y="231.25" width="53.75" height="9.25" fill="#fff"/>
<line x1="1025.95" y1="231.5" x2="972.2" y2="231.5" stroke="#1c1c1c" stroke-width="0.95"/>
<line x1="1025.95" y1="235.5" x2="972.2" y2="235.5" stroke="#1c1c1c" stroke-width="0.95"/>
<line x1="1025.95" y1="240.5" x2="972.2" y2="240.5" stroke="#1c1c1c" stroke-width="0.95"/>
<rect x="967.7" y="231.25" width="4.5" height="9.25" fill="#1a1a1a"/>
<rect x="949.2" y="235.5" width="23" height="5" fill="#1a1a1a"/>
<rect x="949.2" y="235.5" width="4.6" height="143.1" fill="#1a1a1a"/>
<rect x="1120.95" y="333.75" width="5" height="97.65" fill="#1a1a1a"/>
<rect x="985.7" y="373.75" width="135.25" height="5" fill="#1a1a1a"/>
<rect x="953.8" y="373.2" width="31.9" height="2.6" fill="#fff"/>
<rect x="953.8" y="375.7" width="31.9" height="1.4" fill="#1a1a1a"/>
<line x1="1228.45" y1="387.5" x2="1125.95" y2="387.5" stroke="#1c1c1c" stroke-width="0.95"/>
<rect x="1125.95" y="427.5" width="115" height="3.9" fill="#1a1a1a"/>
<rect x="1228.45" y="335" width="13.25" height="18.75" fill="#1a1a1a"/>
<rect x="1234.2" y="338" width="3.5" height="10.75" fill="#fff"/>
<rect x="1228.45" y="410" width="12.5" height="21.4" fill="#1a1a1a"/>
<rect x="1234.2" y="413.75" width="3.5" height="11.25" fill="#fff"/>
<rect x="1241.2" y="349.6" width="5.7" height="4.8" fill="#1a1a1a"/>
<rect x="1240.7" y="409.2" width="6.2" height="4.8" fill="#1a1a1a"/>
<rect x="1228.7" y="353.75" width="3.3" height="56.25" fill="#fff"/>
<line x1="1232.5" y1="353.75" x2="1232.5" y2="410" stroke="#1c1c1c" stroke-width="0.95"/>
<line x1="1228.5" y1="353.75" x2="1228.5" y2="410" stroke="#1c1c1c" stroke-width="0.95"/>
<rect x="1241.2" y="328.6" width="54.7" height="8.7" fill="#fff"/>
<rect x="1240.95" y="427.6" width="54.95" height="8" fill="#fff"/>
<rect x="1286.9" y="328.6" width="9" height="107" fill="#f6f6f6"/>
<rect x="1241.4" y="329" width="45.5" height="4.6" fill="#dedede" stroke="#666" stroke-width="0.6"/>
<rect x="1241.4" y="334.7" width="45.5" height="2.3" fill="#1a1a1a"/>
<rect x="1240.95" y="426.2" width="45.95" height="2.2" fill="#1a1a1a"/>
<rect x="1240.95" y="429.1" width="45.95" height="6.1" fill="#dedede" stroke="#666" stroke-width="0.6"/>
<line x1="1295.5" y1="337" x2="1295.5" y2="427.6" stroke="#1c1c1c" stroke-width="0.95"/>
<line x1="1290.5" y1="337" x2="1290.5" y2="427.6" stroke="#999" stroke-width="0.5"/>
<rect x="1287.7" y="337" width="2.1" height="90.6" fill="#1a1a1a"/>
<rect x="1286.9" y="329" width="8.6" height="8" fill="#fff" stroke="#1c1c1c" stroke-width="0.9"/>
<rect x="1286.9" y="427.6" width="8.6" height="7.6" fill="#fff" stroke="#1c1c1c" stroke-width="0.9"/>
<text x="1176.95" y="117.5" font-size="10.5" text-anchor="middle" fill="#222" stroke="#222" stroke-width="0.22">TERRACE</text>
<text x="1176.95" y="129.5" font-size="10.5" text-anchor="middle" fill="#222" stroke="#222" stroke-width="0.22">3.80X1.95</text>
<text x="1084.1" y="172" font-size="10.5" text-anchor="middle" fill="#222" stroke="#222" stroke-width="0.22">ENG.BAL.</text>
<text x="1084.1" y="184" font-size="10.5" text-anchor="middle" fill="#222" stroke="#222" stroke-width="0.22">2.65X1.50</text>
<text x="1156.95" y="198" font-size="10.5" text-anchor="middle" fill="#222" stroke="#222" stroke-width="0.22">BEDROOM</text>
<text x="1156.95" y="210" font-size="10.5" text-anchor="middle" fill="#222" stroke="#222" stroke-width="0.22">2.15X3.00</text>
<text x="1207.52" y="200.4" font-size="10.5" text-anchor="middle" fill="#222" stroke="#222" stroke-width="0.22" transform="rotate(-90 1207.52 200.4)">ENC.BAL.</text>
<text x="1219.52" y="200.4" font-size="10.5" text-anchor="middle" fill="#222" stroke="#222" stroke-width="0.22" transform="rotate(-90 1219.52 200.4)">3.15X1.50</text>
<text x="1083.7" y="226.25" font-size="10.5" text-anchor="middle" fill="#222" stroke="#222" stroke-width="0.22">KITCHEN</text>
<text x="1083.7" y="238.25" font-size="10.5" text-anchor="middle" fill="#222" stroke="#222" stroke-width="0.22">2.50X3.00</text>
<text x="1194.3" y="266.5" font-size="10.5" text-anchor="middle" fill="#222" stroke="#222" stroke-width="0.22">TOILET</text>
<text x="1194.3" y="278.5" font-size="10.5" text-anchor="middle" fill="#222" stroke="#222" stroke-width="0.22">2.35X1.35</text>
<text x="1194.3" y="312" font-size="10.5" text-anchor="middle" fill="#222" stroke="#222" stroke-width="0.22">TOILET</text>
<text x="1194.3" y="324" font-size="10.5" text-anchor="middle" fill="#222" stroke="#222" stroke-width="0.22">2.35X1.35</text>
<text x="998.45" y="295.5" font-size="10.5" text-anchor="middle" fill="#222" stroke="#222" stroke-width="0.22">LIVING</text>
<text x="998.45" y="307.5" font-size="10.5" text-anchor="middle" fill="#222" stroke="#222" stroke-width="0.22">3.00X4.50</text>
<text x="1080.3" y="333.75" font-size="10.5" text-anchor="middle" fill="#222" stroke="#222" stroke-width="0.22">DINING</text>
<text x="1080.3" y="345.75" font-size="10.5" text-anchor="middle" fill="#222" stroke="#222" stroke-width="0.22">2.50X2.87</text>
<text x="1177.45" y="360" font-size="10.5" text-anchor="middle" fill="#222" stroke="#222" stroke-width="0.22">BEDROOM</text>
<text x="1177.45" y="372" font-size="10.5" text-anchor="middle" fill="#222" stroke="#222" stroke-width="0.22">3.50X1.65</text>
<text x="1177.3" y="403.5" font-size="10.5" text-anchor="middle" fill="#222" stroke="#222" stroke-width="0.22">ENC.BAL.</text>
<text x="1177.3" y="415.5" font-size="10.5" text-anchor="middle" fill="#222" stroke="#222" stroke-width="0.22">3.65X1.50</text>
<text x="1260.02" y="382.25" font-size="10.5" text-anchor="middle" fill="#222" stroke="#222" stroke-width="0.22" transform="rotate(-90 1260.02 382.25)">TERRACE</text>
<text x="1272.02" y="382.25" font-size="10.5" text-anchor="middle" fill="#222" stroke="#222" stroke-width="0.22" transform="rotate(-90 1272.02 382.25)">3.30X1.95</text>
<rect x="767.7" y="98" width="89" height="58" fill="#ebe9d9"/>
<rect x="767.2" y="155" width="89" height="107" fill="#ebe9d9"/>
<rect x="856.2" y="240" width="93.2" height="135" fill="#ebe9d9"/>
<rect x="730.2" y="262" width="131" height="80" fill="#ebe9d9"/>
<rect x="789.7" y="342" width="66.25" height="71" fill="#ebe9d9"/>
<rect x="758.5" y="89" width="107.7" height="9.2" fill="#f3f2e8"/>
<rect x="856.9" y="89" width="9.3" height="66.8" fill="#f3f2e8"/>
<rect x="758.5" y="89" width="9.4" height="66.8" fill="#f3f2e8"/>
<line x1="866.2" y1="89.5" x2="758.5" y2="89.5" stroke="#1c1c1c" stroke-width="0.95"/>
<line x1="857" y1="92.5" x2="767.8" y2="92.5" stroke="#1c1c1c" stroke-width="0.95"/>
<rect x="767.8" y="94.7" width="89.2" height="2.1" fill="#1a1a1a"/>
<line x1="857" y1="98.5" x2="767.8" y2="98.5" stroke="#1c1c1c" stroke-width="0.95"/>
<line x1="866.5" y1="89" x2="866.5" y2="155.8" stroke="#1c1c1c" stroke-width="0.95"/>
<line x1="758.5" y1="89" x2="758.5" y2="155.8" stroke="#1c1c1c" stroke-width="0.95"/>
<line x1="866.2" y1="155.5" x2="860.95" y2="155.5" stroke="#1c1c1c" stroke-width="0.95"/>
<line x1="762.7" y1="155.5" x2="758.5" y2="155.5" stroke="#1c1c1c" stroke-width="0.95"/>
<rect x="857" y="89.4" width="8.8" height="8.8" fill="#efeee2" stroke="#1c1c1c" stroke-width="0.8"/>
<rect x="758.9" y="89.4" width="8.9" height="8.8" fill="#efeee2" stroke="#1c1c1c" stroke-width="0.8"/>
<rect x="858.4" y="98" width="2.55" height="53.5" fill="#1a1a1a"/>
<line x1="856.5" y1="98" x2="856.5" y2="151.5" stroke="#1c1c1c" stroke-width="0.95"/>
<line x1="767.5" y1="98" x2="767.5" y2="151.5" stroke="#1c1c1c" stroke-width="0.95"/>
<rect x="764.8" y="98" width="1.7" height="53.5" fill="#1a1a1a"/>
<line x1="763.5" y1="98" x2="763.5" y2="151.5" stroke="#1c1c1c" stroke-width="0.95"/>
<rect x="838.8" y="150.9" width="22.15" height="5.9" fill="#1a1a1a"/>
<rect x="838.3" y="146" width="5.9" height="10.8" fill="#1a1a1a"/>
<rect x="762.6" y="150.9" width="23" height="5.9" fill="#1a1a1a"/>
<rect x="780.2" y="146" width="6" height="10.8" fill="#1a1a1a"/>
<rect x="785.95" y="153.4" width="52.5" height="3.4" fill="#fff"/>
<line x1="838.45" y1="153.5" x2="785.95" y2="153.5" stroke="#1c1c1c" stroke-width="0.95"/>
<line x1="838.45" y1="156.5" x2="785.95" y2="156.5" stroke="#1c1c1c" stroke-width="0.95"/>
<rect x="855.95" y="151.25" width="5" height="113.75" fill="#1a1a1a"/>
<rect x="762.7" y="151.25" width="5" height="113.75" fill="#1a1a1a"/>
<rect x="762.7" y="259.5" width="63.25" height="5.5" fill="#1a1a1a"/>
<rect x="804.2" y="265" width="5" height="21.25" fill="#1a1a1a"/>
<rect x="804.2" y="315" width="5" height="27" fill="#1a1a1a"/>
<rect x="855.95" y="293.75" width="5" height="84.25" fill="#1a1a1a"/>
<rect x="931.7" y="235.5" width="17.5" height="5" fill="#1a1a1a"/>
<rect x="931.7" y="231.25" width="5" height="9.25" fill="#1a1a1a"/>
<rect x="878.45" y="231.25" width="53.25" height="9.25" fill="#fff"/>
<line x1="931.7" y1="231.5" x2="878.45" y2="231.5" stroke="#1c1c1c" stroke-width="0.95"/>
<line x1="931.7" y1="235.5" x2="878.45" y2="235.5" stroke="#1c1c1c" stroke-width="0.95"/>
<line x1="931.7" y1="240.5" x2="878.45" y2="240.5" stroke="#1c1c1c" stroke-width="0.95"/>
<rect x="874.2" y="231.25" width="4.25" height="9.25" fill="#1a1a1a"/>
<rect x="855.95" y="235.5" width="22.5" height="5" fill="#1a1a1a"/>
<line x1="827.5" y1="342.5" x2="827.5" y2="363.75" stroke="#555" stroke-width="0.9"/>
<rect x="825.2" y="363.75" width="5" height="11.25" fill="#1a1a1a"/>
<rect x="785.2" y="342.5" width="5" height="75" fill="#1a1a1a"/>
<rect x="786.2" y="356.25" width="2.8" height="15" fill="#fff"/>
<rect x="786.2" y="378.75" width="2.8" height="16.25" fill="#fff"/>
<rect x="785.2" y="373.25" width="50.75" height="4.75" fill="#1a1a1a"/>
<rect x="785.2" y="412.5" width="70.75" height="5" fill="#1a1a1a"/>
<rect x="855.95" y="373.25" width="62.5" height="4.75" fill="#1a1a1a"/>
<rect x="918.45" y="373.2" width="30.75" height="2.6" fill="#fff"/>
<rect x="918.45" y="375.7" width="30.75" height="1.4" fill="#1a1a1a"/>
<rect x="855.95" y="378" width="53.75" height="59" fill="#1a1a1a"/>
<rect x="860.95" y="379.5" width="43.25" height="53" fill="#fff"/>
<rect x="874.7" y="433.6" width="17.5" height="2.4" fill="#fff"/>
<line x1="904.2" y1="379.5" x2="860.95" y2="432.5" stroke="#1c1c1c" stroke-width="0.6"/>
<line x1="904.2" y1="432.5" x2="860.95" y2="379.5" stroke="#1c1c1c" stroke-width="0.6"/>
<rect x="785.2" y="417.5" width="70.75" height="19.5" fill="#fff"/>
<line x1="855.95" y1="417.5" x2="785.2" y2="432.5" stroke="#1c1c1c" stroke-width="0.5"/>
<line x1="855.95" y1="432.5" x2="785.2" y2="417.5" stroke="#1c1c1c" stroke-width="0.5"/>
<line x1="855.95" y1="432.5" x2="728.2" y2="432.5" stroke="#1c1c1c" stroke-width="0.95"/>
<line x1="855.95" y1="436.5" x2="728.2" y2="436.5" stroke="#1c1c1c" stroke-width="0.95"/>
<line x1="785.2" y1="342.5" x2="728.2" y2="387.5" stroke="#1c1c1c" stroke-width="0.6"/>
<line x1="785.2" y1="432.5" x2="728.2" y2="387.5" stroke="#1c1c1c" stroke-width="0.6"/>
<text x="812.2" y="120.5" font-size="10.5" text-anchor="middle" fill="#222" stroke="#222" stroke-width="0.22">TERRACE</text>
<text x="812.2" y="132.5" font-size="10.5" text-anchor="middle" fill="#222" stroke="#222" stroke-width="0.22">3.30X1.95</text>
<text x="812.2" y="205.75" font-size="10.5" text-anchor="middle" fill="#222" stroke="#222" stroke-width="0.22">BEDROOM</text>
<text x="812.2" y="217.75" font-size="10.5" text-anchor="middle" fill="#222" stroke="#222" stroke-width="0.22">3.00X3.50</text>
<text x="905.3" y="295.5" font-size="10.5" text-anchor="middle" fill="#222" stroke="#222" stroke-width="0.22">LIVING</text>
<text x="905.3" y="307.5" font-size="10.5" text-anchor="middle" fill="#222" stroke="#222" stroke-width="0.22">3.00X4.50</text>
<text x="768.7" y="298.75" font-size="10.5" text-anchor="middle" fill="#222" stroke="#222" stroke-width="0.22">KITCHEN</text>
<text x="768.7" y="310.75" font-size="10.5" text-anchor="middle" fill="#222" stroke="#222" stroke-width="0.22">2.50X2.50</text>
<text x="807.7" y="355.3" font-size="9.3" text-anchor="middle" fill="#222" stroke="#222" stroke-width="0.22" textLength="11.7" lengthAdjust="spacingAndGlyphs">WC</text>
<text x="807.7" y="366" font-size="9.3" text-anchor="middle" fill="#222" stroke="#222" stroke-width="0.22" textLength="29.6" lengthAdjust="spacingAndGlyphs">1.2X1.05</text>
<text x="823.2" y="393" font-size="9.2" text-anchor="middle" fill="#222" stroke="#222" stroke-width="0.22">BATH</text>
<text x="823.2" y="403.75" font-size="9.2" text-anchor="middle" fill="#222" stroke="#222" stroke-width="0.22">2.25X1.2</text>
<rect x="1123.9" y="762.6" width="105.55" height="58.5" fill="#e4e4e4"/>
<rect x="1047.2" y="668.6" width="181.5" height="95" fill="#e4e4e4"/>
<rect x="953.2" y="542.6" width="275.5" height="131" fill="#e4e4e4"/>
<rect x="953.2" y="542.6" width="94" height="138" fill="#e4e4e4"/>
<rect x="1125.2" y="490.6" width="103.5" height="93" fill="#e4e4e4"/>
<rect x="1232" y="491" width="54.9" height="90.3" fill="#e4e4e4"/>
<rect x="1116.2" y="821" width="122" height="8.4" fill="#fafafa"/>
<rect x="1229.7" y="776.6" width="8.5" height="52.8" fill="#fafafa"/>
<rect x="1116.2" y="772.6" width="8" height="56.8" fill="#fafafa"/>
<rect x="1124.2" y="823" width="105.5" height="3" fill="#e2e2e2"/>
<line x1="1238.2" y1="829.5" x2="1116.2" y2="829.5" stroke="#1c1c1c" stroke-width="0.95"/>
<line x1="1229.7" y1="826.5" x2="1124.2" y2="826.5" stroke="#1c1c1c" stroke-width="0.95"/>
<rect x="1124.2" y="820.9" width="105.5" height="2.2" fill="#1a1a1a"/>
<line x1="1238.5" y1="829.4" x2="1238.5" y2="776.6" stroke="#1c1c1c" stroke-width="0.95"/>
<line x1="1233.5" y1="821.1" x2="1233.5" y2="776.6" stroke="#1c1c1c" stroke-width="0.95"/>
<line x1="1116.5" y1="829.4" x2="1116.5" y2="772.6" stroke="#1c1c1c" stroke-width="0.95"/>
<line x1="1119.5" y1="821.1" x2="1119.5" y2="772.6" stroke="#1c1c1c" stroke-width="0.95"/>
<rect x="1229.7" y="821" width="8.1" height="8" fill="#f0f0f0" stroke="#1c1c1c" stroke-width="0.8"/>
<rect x="1116.6" y="821" width="7.6" height="8" fill="#f0f0f0" stroke="#1c1c1c" stroke-width="0.8"/>
<rect x="1229.4" y="776.6" width="2.8" height="44.5" fill="#1a1a1a"/>
<rect x="1121.2" y="776.6" width="2.9" height="44.5" fill="#1a1a1a"/>
<rect x="1203.45" y="762.1" width="39.35" height="14.5" fill="#1a1a1a"/>
<rect x="1228.45" y="745.1" width="14.35" height="31.5" fill="#1a1a1a"/>
<rect x="1228.45" y="745.1" width="19.75" height="5.5" fill="#1a1a1a"/>
<rect x="1203.45" y="762.1" width="5.75" height="19.25" fill="#1a1a1a"/>
<rect x="1209.2" y="767.3" width="28.25" height="3.5" fill="#fff"/>
<rect x="1233.45" y="750.6" width="4" height="20.2" fill="#fff"/>
<rect x="1146" y="762.1" width="5.2" height="19.25" fill="#1a1a1a"/>
<rect x="1120.95" y="762.1" width="30.25" height="14.5" fill="#1a1a1a"/>
<rect x="1124.7" y="767.3" width="21.3" height="3.7" fill="#fff"/>
<rect x="1120.95" y="653" width="3.95" height="123.6" fill="#1a1a1a"/>
<rect x="1151.2" y="762.1" width="52.25" height="3.5" fill="#fff"/>
<line x1="1203.45" y1="765.5" x2="1151.2" y2="765.5" stroke="#1c1c1c" stroke-width="0.95"/>
<line x1="1203.45" y1="762.5" x2="1151.2" y2="762.5" stroke="#1c1c1c" stroke-width="0.95"/>
<rect x="1229" y="692.3" width="13.2" height="52.8" fill="#fff"/>
<line x1="1242.5" y1="745.1" x2="1242.5" y2="692.3" stroke="#1c1c1c" stroke-width="0.95"/>
<line x1="1233.5" y1="745.1" x2="1233.5" y2="692.3" stroke="#1c1c1c" stroke-width="0.95"/>
<line x1="1229.5" y1="745.1" x2="1229.5" y2="692.3" stroke="#1c1c1c" stroke-width="0.95"/>
<rect x="1228.45" y="687.35" width="19.75" height="5" fill="#1a1a1a"/>
<rect x="1228.45" y="660.6" width="14" height="27" fill="#1a1a1a"/>
<rect x="1234.2" y="666.1" width="3.6" height="20" fill="#fff"/>
<rect x="1181.2" y="668.85" width="47.25" height="6" fill="#1a1a1a"/>
<line x1="1181.2" y1="672.5" x2="1124.7" y2="672.5" stroke="#1c1c1c" stroke-width="0.95"/>
<line x1="1189.5" y1="762.1" x2="1189.5" y2="674.85" stroke="#1c1c1c" stroke-width="0.95"/>
<line x1="1241.5" y1="660.6" x2="1241.5" y2="583.6" stroke="#1c1c1c" stroke-width="0.95"/>
<rect x="1229.3" y="583.1" width="4.15" height="77.5" fill="#1a1a1a"/>
<rect x="1230" y="642.6" width="2.7" height="17.4" fill="#fff"/>
<rect x="1230" y="596.1" width="2.7" height="17.5" fill="#fff"/>
<rect x="1155.2" y="625.6" width="4" height="48.6" fill="#1a1a1a"/>
<rect x="1155.2" y="625.6" width="78.25" height="4" fill="#1a1a1a"/>
<line x1="1156.5" y1="625.6" x2="1156.5" y2="602.6" stroke="#1c1c1c" stroke-width="0.95"/>
<rect x="1155.2" y="581.1" width="4" height="21.5" fill="#1a1a1a"/>
<rect x="1155.2" y="581.1" width="74.5" height="4.8" fill="#1a1a1a"/>
<line x1="1155.2" y1="583.5" x2="1125.7" y2="583.5" stroke="#1c1c1c" stroke-width="0.95"/>
<rect x="1099.45" y="653" width="25.5" height="3.6" fill="#1a1a1a"/>
<rect x="1099.45" y="629.2" width="3.75" height="27.4" fill="#1a1a1a"/>
<rect x="1098.45" y="723.1" width="22.75" height="4.25" fill="#1a1a1a"/>
<rect x="1047.2" y="723.1" width="23" height="4.25" fill="#1a1a1a"/>
<line x1="1098.45" y1="727.5" x2="1070.2" y2="727.5" stroke="#1c1c1c" stroke-width="0.95"/>
<line x1="1098.45" y1="723.5" x2="1070.2" y2="723.5" stroke="#1c1c1c" stroke-width="0.95"/>
<rect x="1042.7" y="609.85" width="5.75" height="157.75" fill="#1a1a1a"/>
<rect x="1047.2" y="629.6" width="23" height="4.5" fill="#1a1a1a"/>
<rect x="1053.45" y="763.6" width="62.75" height="9" fill="#fff"/>
<line x1="1110.3" y1="772.5" x2="1058.45" y2="772.5" stroke="#1c1c1c" stroke-width="0.95"/>
<line x1="1110.3" y1="767.5" x2="1058.45" y2="767.5" stroke="#1c1c1c" stroke-width="0.95"/>
<line x1="1110.3" y1="763.5" x2="1058.45" y2="763.5" stroke="#1c1c1c" stroke-width="0.95"/>
<rect x="1110.3" y="763.2" width="5.9" height="9.4" fill="#1a1a1a"/>
<rect x="1110.3" y="762.1" width="10.9" height="5.2" fill="#1a1a1a"/>
<rect x="1053.45" y="763.2" width="5" height="9.4" fill="#1a1a1a"/>
<rect x="1042.7" y="763.2" width="15.75" height="4.4" fill="#1a1a1a"/>
<rect x="1025.95" y="678.1" width="21.25" height="5" fill="#1a1a1a"/>
<rect x="1025.95" y="678.1" width="4.25" height="9.25" fill="#1a1a1a"/>
<rect x="972.2" y="678.1" width="53.75" height="9.25" fill="#fff"/>
<line x1="1025.95" y1="687.5" x2="972.2" y2="687.5" stroke="#1c1c1c" stroke-width="0.95"/>
<line x1="1025.95" y1="682.5" x2="972.2" y2="682.5" stroke="#1c1c1c" stroke-width="0.95"/>
<line x1="1025.95" y1="678.5" x2="972.2" y2="678.5" stroke="#1c1c1c" stroke-width="0.95"/>
<rect x="967.7" y="678.1" width="4.5" height="9.25" fill="#1a1a1a"/>
<rect x="949.2" y="678.1" width="23" height="5" fill="#1a1a1a"/>
<rect x="949.2" y="540" width="4.6" height="143.1" fill="#1a1a1a"/>
<rect x="1120.95" y="487.2" width="5" height="97.65" fill="#1a1a1a"/>
<rect x="985.7" y="539.85" width="135.25" height="5" fill="#1a1a1a"/>
<rect x="953.8" y="542.8" width="31.9" height="2.6" fill="#fff"/>
<rect x="953.8" y="541.5" width="31.9" height="1.4" fill="#1a1a1a"/>
<line x1="1228.45" y1="531.5" x2="1125.95" y2="531.5" stroke="#1c1c1c" stroke-width="0.95"/>
<rect x="1125.95" y="487.2" width="115" height="3.9" fill="#1a1a1a"/>
<rect x="1228.45" y="564.85" width="13.25" height="18.75" fill="#1a1a1a"/>
<rect x="1234.2" y="569.85" width="3.5" height="10.75" fill="#fff"/>
<rect x="1228.45" y="487.2" width="12.5" height="21.4" fill="#1a1a1a"/>
<rect x="1234.2" y="493.6" width="3.5" height="11.25" fill="#fff"/>
<rect x="1241.2" y="564.2" width="5.7" height="4.8" fill="#1a1a1a"/>
<rect x="1240.7" y="504.6" width="6.2" height="4.8" fill="#1a1a1a"/>
<rect x="1228.7" y="508.6" width="3.3" height="56.25" fill="#fff"/>
<line x1="1232.5" y1="564.85" x2="1232.5" y2="508.6" stroke="#1c1c1c" stroke-width="0.95"/>
<line x1="1228.5" y1="564.85" x2="1228.5" y2="508.6" stroke="#1c1c1c" stroke-width="0.95"/>
<rect x="1241.2" y="581.3" width="54.7" height="8.7" fill="#fff"/>
<rect x="1240.95" y="483" width="54.95" height="8" fill="#fff"/>
<rect x="1286.9" y="483" width="9" height="107" fill="#f6f6f6"/>
<rect x="1241.4" y="585" width="45.5" height="4.6" fill="#dedede" stroke="#666" stroke-width="0.6"/>
<rect x="1241.4" y="581.6" width="45.5" height="2.3" fill="#1a1a1a"/>
<rect x="1240.95" y="490.2" width="45.95" height="2.2" fill="#1a1a1a"/>
<rect x="1240.95" y="483.4" width="45.95" height="6.1" fill="#dedede" stroke="#666" stroke-width="0.6"/>
<line x1="1295.5" y1="581.6" x2="1295.5" y2="491" stroke="#1c1c1c" stroke-width="0.95"/>
<line x1="1290.5" y1="581.6" x2="1290.5" y2="491" stroke="#999" stroke-width="0.5"/>
<rect x="1287.7" y="491" width="2.1" height="90.6" fill="#1a1a1a"/>
<rect x="1286.9" y="581.6" width="8.6" height="8" fill="#fff" stroke="#1c1c1c" stroke-width="0.9"/>
<rect x="1286.9" y="483.4" width="8.6" height="7.6" fill="#fff" stroke="#1c1c1c" stroke-width="0.9"/>
<text x="1176.95" y="796.62" font-size="10.5" text-anchor="middle" fill="#222" stroke="#222" stroke-width="0.22">TERRACE</text>
<text x="1176.95" y="808.62" font-size="10.5" text-anchor="middle" fill="#222" stroke="#222" stroke-width="0.22">3.80X1.95</text>
<text x="1084.1" y="742.12" font-size="10.5" text-anchor="middle" fill="#222" stroke="#222" stroke-width="0.22">ENG.BAL.</text>
<text x="1084.1" y="754.12" font-size="10.5" text-anchor="middle" fill="#222" stroke="#222" stroke-width="0.22">2.65X1.50</text>
<text x="1156.95" y="716.12" font-size="10.5" text-anchor="middle" fill="#222" stroke="#222" stroke-width="0.22">BEDROOM</text>
<text x="1156.95" y="728.12" font-size="10.5" text-anchor="middle" fill="#222" stroke="#222" stroke-width="0.22">2.15X3.00</text>
<text x="1207.52" y="718.2" font-size="10.5" text-anchor="middle" fill="#222" stroke="#222" stroke-width="0.22" transform="rotate(-90 1207.52 718.2)">ENC.BAL.</text>
<text x="1219.52" y="718.2" font-size="10.5" text-anchor="middle" fill="#222" stroke="#222" stroke-width="0.22" transform="rotate(-90 1219.52 718.2)">3.15X1.50</text>
<text x="1083.7" y="687.87" font-size="10.5" text-anchor="middle" fill="#222" stroke="#222" stroke-width="0.22">KITCHEN</text>
<text x="1083.7" y="699.87" font-size="10.5" text-anchor="middle" fill="#222" stroke="#222" stroke-width="0.22">2.50X3.00</text>
<text x="1194.3" y="647.62" font-size="10.5" text-anchor="middle" fill="#222" stroke="#222" stroke-width="0.22">TOILET</text>
<text x="1194.3" y="659.62" font-size="10.5" text-anchor="middle" fill="#222" stroke="#222" stroke-width="0.22">2.35X1.35</text>
<text x="1194.3" y="602.12" font-size="10.5" text-anchor="middle" fill="#222" stroke="#222" stroke-width="0.22">TOILET</text>
<text x="1194.3" y="614.12" font-size="10.5" text-anchor="middle" fill="#222" stroke="#222" stroke-width="0.22">2.35X1.35</text>
<text x="998.45" y="618.62" font-size="10.5" text-anchor="middle" fill="#222" stroke="#222" stroke-width="0.22">LIVING</text>
<text x="998.45" y="630.62" font-size="10.5" text-anchor="middle" fill="#222" stroke="#222" stroke-width="0.22">3.00X4.50</text>
<text x="1080.3" y="580.37" font-size="10.5" text-anchor="middle" fill="#222" stroke="#222" stroke-width="0.22">DINING</text>
<text x="1080.3" y="592.37" font-size="10.5" text-anchor="middle" fill="#222" stroke="#222" stroke-width="0.22">2.50X2.87</text>
<text x="1177.45" y="554.12" font-size="10.5" text-anchor="middle" fill="#222" stroke="#222" stroke-width="0.22">BEDROOM</text>
<text x="1177.45" y="566.12" font-size="10.5" text-anchor="middle" fill="#222" stroke="#222" stroke-width="0.22">3.50X1.65</text>
<text x="1177.3" y="510.62" font-size="10.5" text-anchor="middle" fill="#222" stroke="#222" stroke-width="0.22">ENC.BAL.</text>
<text x="1177.3" y="522.62" font-size="10.5" text-anchor="middle" fill="#222" stroke="#222" stroke-width="0.22">3.65X1.50</text>
<text x="1260.02" y="536.35" font-size="10.5" text-anchor="middle" fill="#222" stroke="#222" stroke-width="0.22" transform="rotate(-90 1260.02 536.35)">TERRACE</text>
<text x="1272.02" y="536.35" font-size="10.5" text-anchor="middle" fill="#222" stroke="#222" stroke-width="0.22" transform="rotate(-90 1272.02 536.35)">3.30X1.95</text>
<rect x="767.7" y="762.6" width="89" height="58" fill="#ebe9d9"/>
<rect x="767.2" y="656.6" width="89" height="107" fill="#ebe9d9"/>
<rect x="856.2" y="543.6" width="93.2" height="135" fill="#ebe9d9"/>
<rect x="730.2" y="576.6" width="131" height="80" fill="#ebe9d9"/>
<rect x="789.7" y="505.6" width="66.25" height="71" fill="#ebe9d9"/>
<rect x="758.5" y="820.4" width="107.7" height="9.2" fill="#f3f2e8"/>
<rect x="856.9" y="762.8" width="9.3" height="66.8" fill="#f3f2e8"/>
<rect x="758.5" y="762.8" width="9.4" height="66.8" fill="#f3f2e8"/>
<line x1="866.2" y1="829.5" x2="758.5" y2="829.5" stroke="#1c1c1c" stroke-width="0.95"/>
<line x1="857" y1="825.5" x2="767.8" y2="825.5" stroke="#1c1c1c" stroke-width="0.95"/>
<rect x="767.8" y="821.8" width="89.2" height="2.1" fill="#1a1a1a"/>
<line x1="857" y1="820.5" x2="767.8" y2="820.5" stroke="#1c1c1c" stroke-width="0.95"/>
<line x1="866.5" y1="829.6" x2="866.5" y2="762.8" stroke="#1c1c1c" stroke-width="0.95"/>
<line x1="758.5" y1="829.6" x2="758.5" y2="762.8" stroke="#1c1c1c" stroke-width="0.95"/>
<line x1="866.2" y1="762.5" x2="860.95" y2="762.5" stroke="#1c1c1c" stroke-width="0.95"/>
<line x1="762.7" y1="762.5" x2="758.5" y2="762.5" stroke="#1c1c1c" stroke-width="0.95"/>
<rect x="857" y="820.4" width="8.8" height="8.8" fill="#efeee2" stroke="#1c1c1c" stroke-width="0.8"/>
<rect x="758.9" y="820.4" width="8.9" height="8.8" fill="#efeee2" stroke="#1c1c1c" stroke-width="0.8"/>
<rect x="858.4" y="767.1" width="2.55" height="53.5" fill="#1a1a1a"/>
<line x1="856.5" y1="820.6" x2="856.5" y2="767.1" stroke="#1c1c1c" stroke-width="0.95"/>
<line x1="767.5" y1="820.6" x2="767.5" y2="767.1" stroke="#1c1c1c" stroke-width="0.95"/>
<rect x="764.8" y="767.1" width="1.7" height="53.5" fill="#1a1a1a"/>
<line x1="763.5" y1="820.6" x2="763.5" y2="767.1" stroke="#1c1c1c" stroke-width="0.95"/>
<rect x="838.8" y="761.8" width="22.15" height="5.9" fill="#1a1a1a"/>
<rect x="838.3" y="761.8" width="5.9" height="10.8" fill="#1a1a1a"/>
<rect x="762.6" y="761.8" width="23" height="5.9" fill="#1a1a1a"/>
<rect x="780.2" y="761.8" width="6" height="10.8" fill="#1a1a1a"/>
<rect x="785.95" y="761.8" width="52.5" height="3.4" fill="#fff"/>
<line x1="838.45" y1="765.5" x2="785.95" y2="765.5" stroke="#1c1c1c" stroke-width="0.95"/>
<line x1="838.45" y1="761.5" x2="785.95" y2="761.5" stroke="#1c1c1c" stroke-width="0.95"/>
<rect x="855.95" y="653.6" width="5" height="113.75" fill="#1a1a1a"/>
<rect x="762.7" y="653.6" width="5" height="113.75" fill="#1a1a1a"/>
<rect x="762.7" y="653.6" width="63.25" height="5.5" fill="#1a1a1a"/>
<rect x="804.2" y="632.35" width="5" height="21.25" fill="#1a1a1a"/>
<rect x="804.2" y="576.6" width="5" height="27" fill="#1a1a1a"/>
<rect x="855.95" y="540.6" width="5" height="84.25" fill="#1a1a1a"/>
<rect x="931.7" y="678.1" width="17.5" height="5" fill="#1a1a1a"/>
<rect x="931.7" y="678.1" width="5" height="9.25" fill="#1a1a1a"/>
<rect x="878.45" y="678.1" width="53.25" height="9.25" fill="#fff"/>
<line x1="931.7" y1="687.5" x2="878.45" y2="687.5" stroke="#1c1c1c" stroke-width="0.95"/>
<line x1="931.7" y1="682.5" x2="878.45" y2="682.5" stroke="#1c1c1c" stroke-width="0.95"/>
<line x1="931.7" y1="678.5" x2="878.45" y2="678.5" stroke="#1c1c1c" stroke-width="0.95"/>
<rect x="874.2" y="678.1" width="4.25" height="9.25" fill="#1a1a1a"/>
<rect x="855.95" y="678.1" width="22.5" height="5" fill="#1a1a1a"/>
<line x1="827.5" y1="576.1" x2="827.5" y2="554.85" stroke="#555" stroke-width="0.9"/>
<rect x="825.2" y="543.6" width="5" height="11.25" fill="#1a1a1a"/>
<rect x="785.2" y="501.1" width="5" height="75" fill="#1a1a1a"/>
<rect x="786.2" y="547.35" width="2.8" height="15" fill="#fff"/>
<rect x="786.2" y="523.6" width="2.8" height="16.25" fill="#fff"/>
<rect x="785.2" y="540.6" width="50.75" height="4.75" fill="#1a1a1a"/>
<rect x="785.2" y="501.1" width="70.75" height="5" fill="#1a1a1a"/>
<rect x="855.95" y="540.6" width="62.5" height="4.75" fill="#1a1a1a"/>
<rect x="918.45" y="542.8" width="30.75" height="2.6" fill="#fff"/>
<rect x="918.45" y="541.5" width="30.75" height="1.4" fill="#1a1a1a"/>
<rect x="855.95" y="481.6" width="53.75" height="59" fill="#1a1a1a"/>
<rect x="860.95" y="486.1" width="43.25" height="53" fill="#fff"/>
<rect x="874.7" y="482.6" width="17.5" height="2.4" fill="#fff"/>
<line x1="904.2" y1="539.1" x2="860.95" y2="486.1" stroke="#1c1c1c" stroke-width="0.6"/>
<line x1="904.2" y1="486.1" x2="860.95" y2="539.1" stroke="#1c1c1c" stroke-width="0.6"/>
<rect x="785.2" y="481.6" width="70.75" height="19.5" fill="#fff"/>
<line x1="855.95" y1="501.1" x2="785.2" y2="486.1" stroke="#1c1c1c" stroke-width="0.5"/>
<line x1="855.95" y1="486.1" x2="785.2" y2="501.1" stroke="#1c1c1c" stroke-width="0.5"/>
<line x1="855.95" y1="486.5" x2="728.2" y2="486.5" stroke="#1c1c1c" stroke-width="0.95"/>
<line x1="855.95" y1="482.5" x2="728.2" y2="482.5" stroke="#1c1c1c" stroke-width="0.95"/>
<line x1="785.2" y1="576.1" x2="728.2" y2="531.1" stroke="#1c1c1c" stroke-width="0.6"/>
<line x1="785.2" y1="486.1" x2="728.2" y2="531.1" stroke="#1c1c1c" stroke-width="0.6"/>
<text x="812.2" y="793.62" font-size="10.5" text-anchor="middle" fill="#222" stroke="#222" stroke-width="0.22">TERRACE</text>
<text x="812.2" y="805.62" font-size="10.5" text-anchor="middle" fill="#222" stroke="#222" stroke-width="0.22">3.30X1.95</text>
<text x="812.2" y="708.37" font-size="10.5" text-anchor="middle" fill="#222" stroke="#222" stroke-width="0.22">BEDROOM</text>
<text x="812.2" y="720.37" font-size="10.5" text-anchor="middle" fill="#222" stroke="#222" stroke-width="0.22">3.00X3.50</text>
<text x="905.3" y="618.62" font-size="10.5" text-anchor="middle" fill="#222" stroke="#222" stroke-width="0.22">LIVING</text>
<text x="905.3" y="630.62" font-size="10.5" text-anchor="middle" fill="#222" stroke="#222" stroke-width="0.22">3.00X4.50</text>
<text x="768.7" y="615.37" font-size="10.5" text-anchor="middle" fill="#222" stroke="#222" stroke-width="0.22">KITCHEN</text>
<text x="768.7" y="627.37" font-size="10.5" text-anchor="middle" fill="#222" stroke="#222" stroke-width="0.22">2.50X2.50</text>
<text x="807.7" y="559.26" font-size="9.3" text-anchor="middle" fill="#222" stroke="#222" stroke-width="0.22" textLength="11.7" lengthAdjust="spacingAndGlyphs">WC</text>
<text x="807.7" y="569.96" font-size="9.3" text-anchor="middle" fill="#222" stroke="#222" stroke-width="0.22" textLength="29.6" lengthAdjust="spacingAndGlyphs">1.2X1.05</text>
<text x="823.2" y="521.44" font-size="9.2" text-anchor="middle" fill="#222" stroke="#222" stroke-width="0.22">BATH</text>
<text x="823.2" y="532.19" font-size="9.2" text-anchor="middle" fill="#222" stroke="#222" stroke-width="0.22">2.25X1.2</text>
<rect x="694.5" y="259.2" width="68.5" height="5.5" fill="#fff"/>
<rect x="694.5" y="259.2" width="68.5" height="0.9" fill="#1a1a1a"/>
<rect x="694.5" y="263.2" width="68.5" height="1.5" fill="#1a1a1a"/>
<line x1="696.1" y1="250.5" x2="761.2" y2="250.5" stroke="#111" stroke-width="1.2" stroke-dasharray="4.9 2.1"/>
<rect x="726.1" y="259.2" width="5.5" height="82.8" fill="#1a1a1a"/>
<rect x="626.25" y="337" width="204.75" height="5.5" fill="#1a1a1a"/>
<rect x="694.5" y="653.9" width="68.5" height="5.5" fill="#fff"/>
<rect x="694.5" y="658.5" width="68.5" height="0.9" fill="#1a1a1a"/>
<rect x="694.5" y="653.9" width="68.5" height="1.5" fill="#1a1a1a"/>
<line x1="696.1" y1="668.5" x2="761.2" y2="668.5" stroke="#111" stroke-width="1.2" stroke-dasharray="4.9 2.1"/>
<rect x="726.1" y="576.6" width="5.5" height="82.8" fill="#1a1a1a"/>
<rect x="626.25" y="576.1" width="204.75" height="5.5" fill="#1a1a1a"/>
<rect x="331.25" y="373.75" width="131.25" height="68.75" fill="#1a1a1a"/>
<rect x="337" y="379.5" width="61.75" height="56.75" fill="#fff"/>
<rect x="404.5" y="379.5" width="52.5" height="56.75" fill="#fff"/>
<rect x="457" y="393.75" width="5.5" height="27.5" fill="#fff"/>
<line x1="462.5" y1="393.75" x2="462.5" y2="421.25" stroke="#1c1c1c" stroke-width="0.5"/>
<line x1="337" y1="379.5" x2="398.75" y2="436.25" stroke="#1c1c1c" stroke-width="0.6"/>
<line x1="337" y1="436.25" x2="398.75" y2="379.5" stroke="#1c1c1c" stroke-width="0.6"/>
<text x="431.25" y="406" font-size="9.2" text-anchor="middle" fill="#222" stroke="#222" stroke-width="0.22">LIFT</text>
<text x="431.25" y="415.75" font-size="9.2" text-anchor="middle" fill="#222" stroke="#222" stroke-width="0.22">1.80X1.90</text>
<line x1="380.5" y1="442.5" x2="380.5" y2="540.2" stroke="#111" stroke-width="1"/>
<line x1="387.5" y1="442.5" x2="387.5" y2="540.2" stroke="#111" stroke-width="1"/>
<line x1="394.5" y1="442.5" x2="394.5" y2="540.2" stroke="#111" stroke-width="1"/>
<line x1="402.5" y1="442.5" x2="402.5" y2="540.2" stroke="#111" stroke-width="1"/>
<line x1="409.5" y1="442.5" x2="409.5" y2="540.2" stroke="#111" stroke-width="1"/>
<line x1="416.5" y1="442.5" x2="416.5" y2="540.2" stroke="#111" stroke-width="1"/>
<line x1="424.5" y1="442.5" x2="424.5" y2="540.2" stroke="#111" stroke-width="1"/>
<line x1="431.5" y1="442.5" x2="431.5" y2="540.2" stroke="#111" stroke-width="1"/>
<line x1="438.5" y1="442.5" x2="438.5" y2="540.2" stroke="#111" stroke-width="1"/>
<line x1="446.5" y1="442.5" x2="446.5" y2="540.2" stroke="#111" stroke-width="1"/>
<rect x="380" y="486.25" width="66.25" height="5.75" fill="#d7e2ec"/>
<line x1="380" y1="486.5" x2="446.25" y2="486.5" stroke="#1c1c1c" stroke-width="0.95"/>
<line x1="380" y1="492.5" x2="446.25" y2="492.5" stroke="#1c1c1c" stroke-width="0.95"/>
<line x1="333.5" y1="442.5" x2="333.5" y2="486.5" stroke="#1c1c1c" stroke-width="0.6"/>
<line x1="335.5" y1="442.5" x2="335.5" y2="486.5" stroke="#1c1c1c" stroke-width="0.6"/>
<line x1="378" y1="517.5" x2="440" y2="517.5" stroke="#1a1a1a" stroke-width="0.8"/>
<polygon points="371.2,517 378.2,513.6 378.2,520.4" fill="#1a1a1a"/>
<text x="452.5" y="467" font-size="10.5" text-anchor="start" fill="#222" stroke="#222" stroke-width="0.22">DN</text>
<text x="452.5" y="521.25" font-size="10.5" text-anchor="start" fill="#222" stroke="#222" stroke-width="0.22">UP</text>
<text x="507.8" y="463.75" font-size="10.4" text-anchor="middle" fill="#222" stroke="#222" stroke-width="0.22">PASSAGE</text>
<text x="728.2" y="463.75" font-size="10.4" text-anchor="middle" fill="#666" stroke="#666" stroke-width="0.22">PASSAGE</text>
<text x="948.4" y="461" font-size="10.4" text-anchor="middle" fill="#222" stroke="#222" stroke-width="0.22">PASSAGE</text>
<rect x="331.25" y="487.2" width="5" height="57.65" fill="#1a1a1a"/>
<rect x="993.75" y="373.75" width="131.85" height="68.75" fill="#1a1a1a"/>
<rect x="999.5" y="379.5" width="93.5" height="56.75" fill="#fff"/>
<rect x="1098.75" y="379.5" width="22.5" height="56.75" fill="#fff"/>
<line x1="1098.75" y1="379.5" x2="1121.25" y2="436.25" stroke="#1c1c1c" stroke-width="0.6"/>
<line x1="1098.75" y1="436.25" x2="1121.25" y2="379.5" stroke="#1c1c1c" stroke-width="0.6"/>
<rect x="993.75" y="393.75" width="5.75" height="27.5" fill="#fff"/>
<line x1="994.5" y1="393.75" x2="994.5" y2="421.25" stroke="#1c1c1c" stroke-width="0.5"/>
<text x="1046" y="405.5" font-size="10.5" text-anchor="middle" fill="#222" stroke="#222" stroke-width="0.22">LIFT</text>
<text x="1046" y="417.5" font-size="10.5" text-anchor="middle" fill="#222" stroke="#222" stroke-width="0.22">1.90X3.20</text>
<line x1="996.5" y1="442.5" x2="996.5" y2="472.5" stroke="#1c1c1c" stroke-width="0.6"/>
<rect x="993.75" y="472.5" width="5" height="68.5" fill="#1a1a1a"/>
<line x1="1121.5" y1="442.5" x2="1121.5" y2="487" stroke="#1c1c1c" stroke-width="0.6"/>
<rect x="1121.25" y="487.2" width="4.35" height="57.65" fill="#1a1a1a"/>
<line x1="1035.5" y1="442.5" x2="1035.5" y2="477.5" stroke="#111" stroke-width="1"/>
<line x1="1035.5" y1="501.25" x2="1035.5" y2="540.2" stroke="#111" stroke-width="1"/>
<line x1="1042.5" y1="442.5" x2="1042.5" y2="477.5" stroke="#111" stroke-width="1"/>
<line x1="1042.5" y1="501.25" x2="1042.5" y2="540.2" stroke="#111" stroke-width="1"/>
<line x1="1049.5" y1="442.5" x2="1049.5" y2="477.5" stroke="#111" stroke-width="1"/>
<line x1="1049.5" y1="501.25" x2="1049.5" y2="540.2" stroke="#111" stroke-width="1"/>
<line x1="1056.5" y1="442.5" x2="1056.5" y2="477.5" stroke="#111" stroke-width="1"/>
<line x1="1056.5" y1="501.25" x2="1056.5" y2="540.2" stroke="#111" stroke-width="1"/>
<line x1="1063.5" y1="442.5" x2="1063.5" y2="477.5" stroke="#111" stroke-width="1"/>
<line x1="1063.5" y1="501.25" x2="1063.5" y2="540.2" stroke="#111" stroke-width="1"/>
<line x1="1070.5" y1="442.5" x2="1070.5" y2="477.5" stroke="#111" stroke-width="1"/>
<line x1="1070.5" y1="501.25" x2="1070.5" y2="540.2" stroke="#111" stroke-width="1"/>
<line x1="1077.5" y1="442.5" x2="1077.5" y2="477.5" stroke="#111" stroke-width="1"/>
<line x1="1077.5" y1="501.25" x2="1077.5" y2="540.2" stroke="#111" stroke-width="1"/>
<line x1="1084.5" y1="442.5" x2="1084.5" y2="477.5" stroke="#111" stroke-width="1"/>
<line x1="1084.5" y1="501.25" x2="1084.5" y2="540.2" stroke="#111" stroke-width="1"/>
<line x1="1035" y1="477.5" x2="1121.25" y2="477.5" stroke="#1c1c1c" stroke-width="0.95"/>
<line x1="1035" y1="501.5" x2="1121.25" y2="501.5" stroke="#1c1c1c" stroke-width="0.95"/>
<line x1="1084.5" y1="485.5" x2="1121.25" y2="485.5" stroke="#1c1c1c" stroke-width="0.95"/>
<line x1="1084.5" y1="492.5" x2="1121.25" y2="492.5" stroke="#1c1c1c" stroke-width="0.95"/>
<line x1="1084.5" y1="442.5" x2="1084.5" y2="540.2" stroke="#1c1c1c" stroke-width="0.95"/>
<line x1="1035.5" y1="477.5" x2="1035.5" y2="501.25" stroke="#1c1c1c" stroke-width="0.95"/>
<line x1="1027.5" y1="459.5" x2="1090" y2="459.5" stroke="#1a1a1a" stroke-width="0.8"/>
<polygon points="1096.5,459.5 1089,456 1089,463" fill="#1a1a1a"/>
<text x="1008.75" y="465" font-size="10.5" text-anchor="start" fill="#222" stroke="#222" stroke-width="0.22">UP</text>
<text x="1008.75" y="522.5" font-size="10.5" text-anchor="start" fill="#222" stroke="#222" stroke-width="0.22">DN</text>
<text x="375.3" y="364.2" font-size="11.3" text-anchor="start" fill="#b8222b" stroke="#b8222b" stroke-width="0.22" font-weight="bold" letter-spacing="0.42">203,403,603,803,1003</text>
<text x="552" y="353" font-size="11.3" text-anchor="middle" fill="#b8222b" stroke="#b8222b" stroke-width="0.22" font-weight="bold" letter-spacing="0.42">204,404,</text>
<text x="552" y="366.5" font-size="11.3" text-anchor="middle" fill="#b8222b" stroke="#b8222b" stroke-width="0.22" font-weight="bold" letter-spacing="0.42">604,804,1004</text>
<text x="905" y="353" font-size="11.3" text-anchor="middle" fill="#b8222b" stroke="#b8222b" stroke-width="0.22" font-weight="bold" letter-spacing="0.42">205,405,</text>
<text x="905" y="366.5" font-size="11.3" text-anchor="middle" fill="#b8222b" stroke="#b8222b" stroke-width="0.22" font-weight="bold" letter-spacing="0.42">605,805,1005</text>
<text x="962.5" y="364.2" font-size="11.3" text-anchor="start" fill="#b8222b" stroke="#b8222b" stroke-width="0.22" font-weight="bold" letter-spacing="0.42">206,406,606,806,1006</text>
<text x="375.3" y="561.5" font-size="11.3" text-anchor="start" fill="#b8222b" stroke="#b8222b" stroke-width="0.22" font-weight="bold" letter-spacing="0.42">202,402,602,802,1002</text>
<text x="552" y="558" font-size="11.3" text-anchor="middle" fill="#b8222b" stroke="#b8222b" stroke-width="0.22" font-weight="bold" letter-spacing="0.42">201,401,</text>
<text x="552" y="571.5" font-size="11.3" text-anchor="middle" fill="#b8222b" stroke="#b8222b" stroke-width="0.22" font-weight="bold" letter-spacing="0.42">601,801,1001</text>
<text x="905" y="558" font-size="11.3" text-anchor="middle" fill="#b8222b" stroke="#b8222b" stroke-width="0.22" font-weight="bold" letter-spacing="0.42">208,408,</text>
<text x="905" y="571.5" font-size="11.3" text-anchor="middle" fill="#b8222b" stroke="#b8222b" stroke-width="0.22" font-weight="bold" letter-spacing="0.42">608,808,1008</text>
<text x="962.5" y="561.5" font-size="11.3" text-anchor="start" fill="#b8222b" stroke="#b8222b" stroke-width="0.22" font-weight="bold" letter-spacing="0.42">207,407,607,807,1007</text>
<g fill="#fff" stroke="#fff" stroke-width="2.2" stroke-linejoin="round" opacity="0.78">
<rect x="576.4" y="453.2" width="39" height="28" />
<text transform="translate(636.5,480.6) scale(1.355,1)" x="0" y="0" font-size="54" font-weight="bold" letter-spacing="-1.6" text-anchor="start">square</text>
</g>
<g fill="#fff" opacity="0.72">
<text transform="translate(644,542.6) scale(1.25,1)" x="0" y="0" font-size="60" text-anchor="start">yards</text>
</g>
<circle cx="1367.9" cy="459.2" r="17" fill="#f2c832" stroke="#20140a" stroke-width="1.1"/>
<line x1="1372.9" y1="459.2" x2="1382.4" y2="459.2" stroke="#4a2c06" stroke-width="0.6"/>
<line x1="1372.8" y1="460.18" x2="1382.12" y2="462.03" stroke="#4a2c06" stroke-width="0.6"/>
<line x1="1372.52" y1="461.11" x2="1381.3" y2="464.75" stroke="#4a2c06" stroke-width="0.6"/>
<line x1="1372.06" y1="461.98" x2="1379.96" y2="467.26" stroke="#4a2c06" stroke-width="0.6"/>
<line x1="1371.44" y1="462.74" x2="1378.15" y2="469.45" stroke="#4a2c06" stroke-width="0.6"/>
<line x1="1370.68" y1="463.36" x2="1375.96" y2="471.26" stroke="#4a2c06" stroke-width="0.6"/>
<line x1="1369.81" y1="463.82" x2="1373.45" y2="472.6" stroke="#4a2c06" stroke-width="0.6"/>
<line x1="1368.88" y1="464.1" x2="1370.73" y2="473.42" stroke="#4a2c06" stroke-width="0.6"/>
<line x1="1367.9" y1="464.2" x2="1367.9" y2="473.7" stroke="#4a2c06" stroke-width="0.6"/>
<line x1="1366.92" y1="464.1" x2="1365.07" y2="473.42" stroke="#4a2c06" stroke-width="0.6"/>
<line x1="1365.99" y1="463.82" x2="1362.35" y2="472.6" stroke="#4a2c06" stroke-width="0.6"/>
<line x1="1365.12" y1="463.36" x2="1359.84" y2="471.26" stroke="#4a2c06" stroke-width="0.6"/>
<line x1="1364.36" y1="462.74" x2="1357.65" y2="469.45" stroke="#4a2c06" stroke-width="0.6"/>
<line x1="1363.74" y1="461.98" x2="1355.84" y2="467.26" stroke="#4a2c06" stroke-width="0.6"/>
<line x1="1363.28" y1="461.11" x2="1354.5" y2="464.75" stroke="#4a2c06" stroke-width="0.6"/>
<line x1="1363" y1="460.18" x2="1353.68" y2="462.03" stroke="#4a2c06" stroke-width="0.6"/>
<line x1="1362.9" y1="459.2" x2="1353.4" y2="459.2" stroke="#4a2c06" stroke-width="0.6"/>
<line x1="1363" y1="458.22" x2="1353.68" y2="456.37" stroke="#4a2c06" stroke-width="0.6"/>
<line x1="1363.28" y1="457.29" x2="1354.5" y2="453.65" stroke="#4a2c06" stroke-width="0.6"/>
<line x1="1363.74" y1="456.42" x2="1355.84" y2="451.14" stroke="#4a2c06" stroke-width="0.6"/>
<line x1="1364.36" y1="455.66" x2="1357.65" y2="448.95" stroke="#4a2c06" stroke-width="0.6"/>
<line x1="1365.12" y1="455.04" x2="1359.84" y2="447.14" stroke="#4a2c06" stroke-width="0.6"/>
<line x1="1365.99" y1="454.58" x2="1362.35" y2="445.8" stroke="#4a2c06" stroke-width="0.6"/>
<line x1="1366.92" y1="454.3" x2="1365.07" y2="444.98" stroke="#4a2c06" stroke-width="0.6"/>
<line x1="1367.9" y1="454.2" x2="1367.9" y2="444.7" stroke="#4a2c06" stroke-width="0.6"/>
<line x1="1368.88" y1="454.3" x2="1370.73" y2="444.98" stroke="#4a2c06" stroke-width="0.6"/>
<line x1="1369.81" y1="454.58" x2="1373.45" y2="445.8" stroke="#4a2c06" stroke-width="0.6"/>
<line x1="1370.68" y1="455.04" x2="1375.96" y2="447.14" stroke="#4a2c06" stroke-width="0.6"/>
<line x1="1371.44" y1="455.66" x2="1378.15" y2="448.95" stroke="#4a2c06" stroke-width="0.6"/>
<line x1="1372.06" y1="456.42" x2="1379.96" y2="451.14" stroke="#4a2c06" stroke-width="0.6"/>
<line x1="1372.52" y1="457.29" x2="1381.3" y2="453.65" stroke="#4a2c06" stroke-width="0.6"/>
<line x1="1372.8" y1="458.22" x2="1382.12" y2="456.37" stroke="#4a2c06" stroke-width="0.6"/>
<polygon points="1367.9,461.2 1367.9,457.2 1399.9,459.2" fill="#1c1208"/>
<polygon points="1366.49,460.61 1369.31,457.79 1388.76,480.06" fill="#1c1208"/>
<polygon points="1365.9,459.2 1369.9,459.2 1367.9,491.2" fill="#1c1208"/>
<polygon points="1366.49,457.79 1369.31,460.61 1347.04,480.06" fill="#1c1208"/>
<polygon points="1367.9,457.2 1367.9,461.2 1335.9,459.2" fill="#1c1208"/>
<polygon points="1369.31,457.79 1366.49,460.61 1347.04,438.34" fill="#1c1208"/>
<polygon points="1369.9,459.2 1365.9,459.2 1367.9,427.2" fill="#1c1208"/>
<polygon points="1369.31,460.61 1366.49,457.79 1388.76,438.34" fill="#1c1208"/>
<circle cx="1367.9" cy="459.2" r="5" fill="#1a1410"/>
<text x="1325.9" y="463.9" font-size="16" text-anchor="middle" fill="#111" stroke="#111" stroke-width="0.22" font-weight="bold" textLength="9.4" lengthAdjust="spacingAndGlyphs">N</text>
<rect x="219.3" y="860.7" width="473.3" height="15.5" fill="#e2e2e2"/>
<line x1="219.3" y1="860.5" x2="692.6" y2="860.5" stroke="#222" stroke-width="0.9"/>
<line x1="219.3" y1="876.5" x2="692.6" y2="876.5" stroke="#222" stroke-width="0.9"/>
<line x1="219.3" y1="889.5" x2="692.6" y2="889.5" stroke="#222" stroke-width="0.9"/>
<line x1="219.3" y1="903.5" x2="692.6" y2="903.5" stroke="#222" stroke-width="0.9"/>
<line x1="219.3" y1="916.5" x2="692.6" y2="916.5" stroke="#222" stroke-width="0.9"/>
<line x1="219.3" y1="930.5" x2="692.6" y2="930.5" stroke="#222" stroke-width="0.9"/>
<line x1="219.3" y1="943.5" x2="692.6" y2="943.5" stroke="#222" stroke-width="0.9"/>
<line x1="219.3" y1="957.5" x2="692.6" y2="957.5" stroke="#222" stroke-width="0.9"/>
<line x1="219.3" y1="970.5" x2="692.6" y2="970.5" stroke="#222" stroke-width="0.9"/>
<line x1="219.3" y1="984.5" x2="692.6" y2="984.5" stroke="#222" stroke-width="0.9"/>
<line x1="219.5" y1="860.7" x2="219.5" y2="984.4" stroke="#222" stroke-width="0.9"/>
<line x1="345.5" y1="860.7" x2="345.5" y2="984.4" stroke="#222" stroke-width="0.9"/>
<line x1="402.5" y1="860.7" x2="402.5" y2="984.4" stroke="#222" stroke-width="0.9"/>
<line x1="457.5" y1="860.7" x2="457.5" y2="984.4" stroke="#222" stroke-width="0.9"/>
<line x1="527.5" y1="860.7" x2="527.5" y2="984.4" stroke="#222" stroke-width="0.9"/>
<line x1="584.5" y1="860.7" x2="584.5" y2="984.4" stroke="#222" stroke-width="0.9"/>
<line x1="642.5" y1="860.7" x2="642.5" y2="984.4" stroke="#222" stroke-width="0.9"/>
<line x1="692.5" y1="860.7" x2="692.5" y2="984.4" stroke="#222" stroke-width="0.9"/>
<text x="228" y="873.2" font-size="10.3" text-anchor="start" fill="#222" stroke="#222" stroke-width="0.22">Flat No.</text>
<text x="354.6" y="873.2" font-size="10.3" text-anchor="start" fill="#222" stroke="#222" stroke-width="0.22">Type</text>
<text x="409" y="873.2" font-size="10.3" text-anchor="start" fill="#222" stroke="#222" stroke-width="0.22">Carpet</text>
<text x="464.2" y="873.2" font-size="10.3" text-anchor="start" fill="#222" stroke="#222" stroke-width="0.22">Kit. Enc.Bal.</text>
<text x="538" y="873.2" font-size="10.3" text-anchor="start" fill="#222" stroke="#222" stroke-width="0.22">Enc.Bal.</text>
<text x="594.9" y="873.2" font-size="10.3" text-anchor="start" fill="#222" stroke="#222" stroke-width="0.22">Terrace</text>
<text x="651.4" y="873.2" font-size="10.3" text-anchor="start" fill="#222" stroke="#222" stroke-width="0.22">Total</text>
<text x="227.7" y="886.7" font-size="10.7" text-anchor="start" fill="#222" stroke="#222" stroke-width="0.22">201,401,601,801,1001</text>
<text x="354.2" y="886.7" font-size="10.7" text-anchor="start" fill="#222" stroke="#222" stroke-width="0.22">1 BHK</text>
<text x="409" y="886.7" font-size="10.7" text-anchor="start" fill="#222" stroke="#222" stroke-width="0.22">41.70</text>
<text x="463.9" y="886.7" font-size="10.7" text-anchor="start" fill="#222" stroke="#222" stroke-width="0.22">0.00</text>
<text x="537.8" y="886.7" font-size="10.7" text-anchor="start" fill="#222" stroke="#222" stroke-width="0.22">0.00</text>
<text x="594.9" y="886.7" font-size="10.7" text-anchor="start" fill="#222" stroke="#222" stroke-width="0.22">5.30</text>
<text x="651.1" y="886.7" font-size="10.7" text-anchor="start" fill="#222" stroke="#222" stroke-width="0.22">47.00</text>
<text x="227.7" y="900.09" font-size="10.7" text-anchor="start" fill="#222" stroke="#222" stroke-width="0.22">202,402,602,802,1002</text>
<text x="354.2" y="900.09" font-size="10.7" text-anchor="start" fill="#222" stroke="#222" stroke-width="0.22">2 BHK</text>
<text x="409" y="900.09" font-size="10.7" text-anchor="start" fill="#222" stroke="#222" stroke-width="0.22">53.60</text>
<text x="463.9" y="900.09" font-size="10.7" text-anchor="start" fill="#222" stroke="#222" stroke-width="0.22">3.20</text>
<text x="537.8" y="900.09" font-size="10.7" text-anchor="start" fill="#222" stroke="#222" stroke-width="0.22">8.70</text>
<text x="594.9" y="900.09" font-size="10.7" text-anchor="start" fill="#222" stroke="#222" stroke-width="0.22">12.50</text>
<text x="651.1" y="900.09" font-size="10.7" text-anchor="start" fill="#222" stroke="#222" stroke-width="0.22">78.00</text>
<text x="227.7" y="913.48" font-size="10.7" text-anchor="start" fill="#222" stroke="#222" stroke-width="0.22">203,403,603,803,1003</text>
<text x="354.2" y="913.48" font-size="10.7" text-anchor="start" fill="#222" stroke="#222" stroke-width="0.22">2 BHK</text>
<text x="409" y="913.48" font-size="10.7" text-anchor="start" fill="#222" stroke="#222" stroke-width="0.22">53.60</text>
<text x="463.9" y="913.48" font-size="10.7" text-anchor="start" fill="#222" stroke="#222" stroke-width="0.22">3.20</text>
<text x="537.8" y="913.48" font-size="10.7" text-anchor="start" fill="#222" stroke="#222" stroke-width="0.22">8.70</text>
<text x="594.9" y="913.48" font-size="10.7" text-anchor="start" fill="#222" stroke="#222" stroke-width="0.22">12.50</text>
<text x="651.1" y="913.48" font-size="10.7" text-anchor="start" fill="#222" stroke="#222" stroke-width="0.22">78.00</text>
<text x="227.7" y="926.87" font-size="10.7" text-anchor="start" fill="#222" stroke="#222" stroke-width="0.22">204,404,604,804,1004</text>
<text x="354.2" y="926.87" font-size="10.7" text-anchor="start" fill="#222" stroke="#222" stroke-width="0.22">1 BHK</text>
<text x="409" y="926.87" font-size="10.7" text-anchor="start" fill="#222" stroke="#222" stroke-width="0.22">41.70</text>
<text x="463.9" y="926.87" font-size="10.7" text-anchor="start" fill="#222" stroke="#222" stroke-width="0.22">0.00</text>
<text x="537.8" y="926.87" font-size="10.7" text-anchor="start" fill="#222" stroke="#222" stroke-width="0.22">0.00</text>
<text x="594.9" y="926.87" font-size="10.7" text-anchor="start" fill="#222" stroke="#222" stroke-width="0.22">5.30</text>
<text x="651.1" y="926.87" font-size="10.7" text-anchor="start" fill="#222" stroke="#222" stroke-width="0.22">47.00</text>
<text x="227.7" y="940.26" font-size="10.7" text-anchor="start" fill="#222" stroke="#222" stroke-width="0.22">205,405,605,805,1005</text>
<text x="354.2" y="940.26" font-size="10.7" text-anchor="start" fill="#222" stroke="#222" stroke-width="0.22">1 BHK</text>
<text x="409" y="940.26" font-size="10.7" text-anchor="start" fill="#222" stroke="#222" stroke-width="0.22">41.70</text>
<text x="463.9" y="940.26" font-size="10.7" text-anchor="start" fill="#222" stroke="#222" stroke-width="0.22">0.00</text>
<text x="537.8" y="940.26" font-size="10.7" text-anchor="start" fill="#222" stroke="#222" stroke-width="0.22">0.00</text>
<text x="594.9" y="940.26" font-size="10.7" text-anchor="start" fill="#222" stroke="#222" stroke-width="0.22">5.30</text>
<text x="651.1" y="940.26" font-size="10.7" text-anchor="start" fill="#222" stroke="#222" stroke-width="0.22">47.00</text>
<text x="227.7" y="953.65" font-size="10.7" text-anchor="start" fill="#222" stroke="#222" stroke-width="0.22">206,406,606,806,1006</text>
<text x="354.2" y="953.65" font-size="10.7" text-anchor="start" fill="#222" stroke="#222" stroke-width="0.22">2 BHK</text>
<text x="409" y="953.65" font-size="10.7" text-anchor="start" fill="#222" stroke="#222" stroke-width="0.22">53.60</text>
<text x="463.9" y="953.65" font-size="10.7" text-anchor="start" fill="#222" stroke="#222" stroke-width="0.22">3.20</text>
<text x="537.8" y="953.65" font-size="10.7" text-anchor="start" fill="#222" stroke="#222" stroke-width="0.22">8.70</text>
<text x="594.9" y="953.65" font-size="10.7" text-anchor="start" fill="#222" stroke="#222" stroke-width="0.22">12.50</text>
<text x="651.1" y="953.65" font-size="10.7" text-anchor="start" fill="#222" stroke="#222" stroke-width="0.22">78.00</text>
<text x="227.7" y="967.04" font-size="10.7" text-anchor="start" fill="#222" stroke="#222" stroke-width="0.22">207,407,607,807,1007</text>
<text x="354.2" y="967.04" font-size="10.7" text-anchor="start" fill="#222" stroke="#222" stroke-width="0.22">2 BHK</text>
<text x="409" y="967.04" font-size="10.7" text-anchor="start" fill="#222" stroke="#222" stroke-width="0.22">53.60</text>
<text x="463.9" y="967.04" font-size="10.7" text-anchor="start" fill="#222" stroke="#222" stroke-width="0.22">3.20</text>
<text x="537.8" y="967.04" font-size="10.7" text-anchor="start" fill="#222" stroke="#222" stroke-width="0.22">8.70</text>
<text x="594.9" y="967.04" font-size="10.7" text-anchor="start" fill="#222" stroke="#222" stroke-width="0.22">12.50</text>
<text x="651.1" y="967.04" font-size="10.7" text-anchor="start" fill="#222" stroke="#222" stroke-width="0.22">78.00</text>
<text x="227.7" y="980.43" font-size="10.7" text-anchor="start" fill="#222" stroke="#222" stroke-width="0.22">208,408,608,808,1008</text>
<text x="354.2" y="980.43" font-size="10.7" text-anchor="start" fill="#222" stroke="#222" stroke-width="0.22">1 BHK</text>
<text x="409" y="980.43" font-size="10.7" text-anchor="start" fill="#222" stroke="#222" stroke-width="0.22">41.70</text>
<text x="463.9" y="980.43" font-size="10.7" text-anchor="start" fill="#222" stroke="#222" stroke-width="0.22">0.00</text>
<text x="537.8" y="980.43" font-size="10.7" text-anchor="start" fill="#222" stroke="#222" stroke-width="0.22">0.00</text>
<text x="594.9" y="980.43" font-size="10.7" text-anchor="start" fill="#222" stroke="#222" stroke-width="0.22">5.30</text>
<text x="651.1" y="980.43" font-size="10.7" text-anchor="start" fill="#222" stroke="#222" stroke-width="0.22">47.00</text>
<text x="693.3" y="854" font-size="12.2" text-anchor="end" fill="#222" stroke="#222" stroke-width="0.22">Area statement in sq.m</text>
<text x="709.3" y="981.8" font-size="12.2" text-anchor="start" fill="#111" stroke="#111" stroke-width="0.22">Proposed 8th &amp; 10th floor and not for sale</text>
<text x="162.6" y="57.7" font-size="28" text-anchor="start" fill="#4a1c12" stroke="#4a1c12" stroke-width="0.15" letter-spacing="-0.24">Typical 2nd, 4th, 6th, 8th &amp; 10th Floor Plan</text>
<rect x="0" y="0" width="1440" height="1.2" fill="#111"/>
<rect x="0" y="0" width="1.2" height="1016" fill="#111"/>
</svg>
</body></html>
